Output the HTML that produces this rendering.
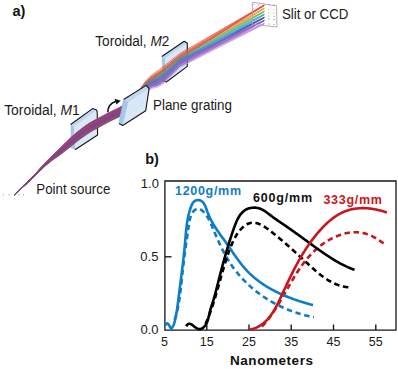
<!DOCTYPE html>
<html><head><meta charset="utf-8"><style>
html,body{margin:0;padding:0;background:#fff;}
svg{display:block;font-family:"Liberation Sans",sans-serif;}
</style></head><body>
<svg width="398" height="369" viewBox="0 0 398 369">
<rect width="398" height="369" fill="#fff"/>
<text x="12.4" y="15.6" font-size="14.5" font-weight="bold" fill="#111">a)</text>
<text x="95.3" y="45.9" font-size="14" fill="#1a1a1a" textLength="74" lengthAdjust="spacingAndGlyphs">Toroidal, <tspan font-style="italic">M</tspan>2</text>
<text x="4.2" y="115" font-size="14" fill="#1a1a1a" textLength="75.5" lengthAdjust="spacingAndGlyphs">Toroidal, <tspan font-style="italic">M</tspan>1</text>
<text x="153" y="109.5" font-size="14" fill="#1a1a1a" textLength="79" lengthAdjust="spacingAndGlyphs">Plane grating</text>
<text x="282" y="18.9" font-size="14" fill="#1a1a1a" textLength="66.3" lengthAdjust="spacingAndGlyphs">Slit or CCD</text>
<text x="36.3" y="194.3" font-size="14" fill="#1a1a1a" textLength="74" lengthAdjust="spacingAndGlyphs">Point source</text>
<circle cx="3.6" cy="194.8" r="0.55" fill="#777"/><circle cx="9.0" cy="194.8" r="0.55" fill="#777"/><circle cx="19.0" cy="194.8" r="0.55" fill="#777"/><circle cx="23.7" cy="194.8" r="0.55" fill="#777"/><path d="M14,195 L62,160 M14,195 L45,156" stroke="#ece4ea" stroke-width="0.5" fill="none"/><polygon points="162.2,56.3 164.8,58.0 166.3,82.0 162.9,80.7" fill="#a6c7ec" stroke="#94b6dc" stroke-width="0.5" stroke-linejoin="round"/><polygon points="162.2,56.3 184.2,41.3 187.3,43.2 187.3,66.4 166.3,82.0 164.8,58.0" fill="#dae7f7"/><polygon points="162.2,56.3 184.2,41.3 187.3,43.2 165.0,58.2" fill="#c0d7f1"/><polyline points="162.2,56.3 184.2,41.3 187.3,43.2 187.3,66.4 166.3,82.0 162.9,80.7" fill="none" stroke="#151515" stroke-width="1.1" stroke-linejoin="round" stroke-linecap="round"/><polygon points="71.0,124.3 73.8,126.2 75.4,149.5 71.0,147.7" fill="#a6c7ec" stroke="#94b6dc" stroke-width="0.5" stroke-linejoin="round"/><polygon points="71.0,124.3 92.6,108.6 96.6,110.0 97.6,135.0 75.4,149.5 74.0,126.3" fill="#dae7f7"/><polygon points="71.0,124.3 92.6,108.6 96.6,110.0 74.2,126.4" fill="#c0d7f1"/><polyline points="71.0,124.3 92.6,108.6 96.6,110.0 97.2,112.0 97.6,135.0 75.4,149.5" fill="none" stroke="#151515" stroke-width="1.1" stroke-linejoin="round" stroke-linecap="round"/><polygon points="14.0,194.9 15.4,193.6 16.8,192.3 18.2,191.0 19.7,189.6 21.1,188.3 22.5,186.9 23.9,185.5 25.3,184.2 26.7,182.8 28.2,181.4 29.6,180.0 31.0,178.5 32.4,177.1 33.8,175.6 35.2,174.1 36.7,172.6 38.1,171.0 39.5,169.5 40.9,167.9 42.3,166.4 43.7,164.9 45.1,163.4 46.6,161.9 48.0,160.4 49.4,159.0 50.8,157.6 52.2,156.2 53.6,154.9 55.1,153.5 56.5,152.2 57.9,150.8 59.3,149.5 60.7,148.1 62.1,146.7 63.6,145.3 65.0,143.9 66.4,142.5 67.8,141.2 69.2,139.8 70.6,138.5 72.0,137.2 73.5,135.9 74.9,134.7 76.3,133.4 77.7,132.2 79.1,131.1 80.5,130.0 82.0,128.9 83.4,127.8 84.8,126.8 86.2,125.8 87.6,124.8 89.0,123.9 90.4,123.0 91.9,122.2 93.3,121.4 94.7,120.7 96.1,119.9 97.5,119.2 98.9,118.5 100.4,117.7 101.8,117.0 103.2,116.2 104.6,115.5 106.0,114.8 107.4,114.0 108.9,113.3 110.3,112.6 111.7,111.9 113.1,111.2 114.5,110.5 115.9,109.9 117.3,109.2 118.8,108.5 120.2,107.7 121.6,106.8 123.0,105.8 124.4,104.7 125.8,103.5 127.3,102.2 128.7,100.9 130.1,99.5 131.5,98.1 132.9,96.8 134.3,95.4 135.8,94.1 137.2,92.8 138.6,91.5 140.0,90.1 140.0,97.5 138.6,98.9 137.2,100.2 135.8,101.5 134.3,102.8 132.9,104.2 131.5,105.7 130.1,107.2 128.7,108.6 127.3,110.1 125.8,111.5 124.4,112.8 123.0,113.9 121.6,115.0 120.2,115.9 118.8,116.7 117.3,117.4 115.9,118.1 114.5,118.7 113.1,119.4 111.7,120.1 110.3,120.8 108.9,121.5 107.4,122.2 106.0,123.0 104.6,123.8 103.2,124.5 101.8,125.3 100.4,126.1 98.9,126.9 97.5,127.6 96.1,128.4 94.7,129.2 93.3,130.0 91.9,130.8 90.4,131.6 89.0,132.5 87.6,133.4 86.2,134.4 84.8,135.3 83.4,136.3 82.0,137.4 80.5,138.4 79.1,139.5 77.7,140.5 76.3,141.6 74.9,142.7 73.5,143.8 72.0,144.9 70.6,146.0 69.2,147.1 67.8,148.3 66.4,149.4 65.0,150.6 63.6,151.8 62.1,152.9 60.7,154.0 59.3,155.1 57.9,156.1 56.5,157.1 55.1,158.0 53.6,158.9 52.2,159.9 50.8,161.0 49.4,162.1 48.0,163.3 46.6,164.5 45.1,165.8 43.7,167.1 42.3,168.5 40.9,169.9 39.5,171.2 38.1,172.6 36.7,174.0 35.2,175.4 33.8,176.8 32.4,178.2 31.0,179.5 29.6,180.9 28.2,182.2 26.7,183.5 25.3,184.8 23.9,186.1 22.5,187.4 21.1,188.7 19.7,190.0 18.2,191.3 16.8,192.5 15.4,193.8 14.0,195.1" fill="#6e3474" fill-opacity="0.55"/><path d="M14.0,195.0 L16.3,192.9 L18.6,190.7 L20.9,188.6 L23.2,186.4 L25.5,184.2 L27.7,181.9 L30.0,179.6 L32.3,177.3 L34.6,174.9 L36.9,172.5 L39.2,170.1 L41.5,167.6 L43.8,165.2 L46.1,162.9 L48.4,160.6 L50.7,158.4 L52.9,156.3 L55.2,154.2 L57.5,152.2 L59.8,150.2 L62.1,148.0 L64.4,145.8 L66.7,143.6 L69.0,141.4 L71.3,139.4 L73.6,137.4 L75.9,135.5 L78.1,133.6 L80.4,131.8 L82.7,130.1 L85.0,128.4 L87.3,126.8 L89.6,125.3 L91.9,124.0 L94.2,122.7 L96.5,121.5 L98.8,120.3 L101.1,119.1 L103.3,117.9 L105.6,116.7 L107.9,115.5 L110.2,114.3 L112.5,113.2 L114.8,112.1 L117.1,111.0 L119.4,109.8 L121.7,108.4 L124.0,106.8 L126.3,104.9 L128.5,102.8 L130.8,100.6 L133.1,98.4 L135.4,96.2 L137.7,93.8 L140.0,91.3" fill="none" stroke="#8a3a9c" stroke-width="0.75" stroke-opacity="0.9"/><path d="M14.0,195.0 L16.3,192.9 L18.6,190.8 L20.9,188.6 L23.2,186.5 L25.5,184.3 L27.7,182.1 L30.0,179.8 L32.3,177.5 L34.6,175.2 L36.9,172.8 L39.2,170.4 L41.5,168.0 L43.8,165.6 L46.1,163.3 L48.4,161.1 L50.7,158.9 L52.9,156.9 L55.2,155.0 L57.5,153.1 L59.8,151.1 L62.1,149.0 L64.4,146.9 L66.7,144.7 L69.0,142.7 L71.3,140.7 L73.6,138.7 L75.9,136.8 L78.1,134.9 L80.4,133.2 L82.7,131.4 L85.0,129.8 L87.3,128.2 L89.6,126.7 L91.9,125.3 L94.2,124.1 L96.5,122.8 L98.8,121.6 L101.1,120.4 L103.3,119.2 L105.6,118.0 L107.9,116.8 L110.2,115.6 L112.5,114.5 L114.8,113.4 L117.1,112.3 L119.4,111.1 L121.7,109.7 L124.0,108.0 L126.3,106.1 L128.5,103.9 L130.8,101.7 L133.1,99.4 L135.4,97.2 L137.7,95.0 L140.0,92.6" fill="none" stroke="#d04a3a" stroke-width="0.75" stroke-opacity="0.9"/><path d="M14.0,195.0 L16.3,192.9 L18.6,190.7 L20.9,188.5 L23.2,186.3 L25.5,184.1 L27.7,181.8 L30.0,179.6 L32.3,177.2 L34.6,174.8 L36.9,172.4 L39.2,169.9 L41.5,167.5 L43.8,165.0 L46.1,162.6 L48.4,160.3 L50.7,158.1 L52.9,155.9 L55.2,153.9 L57.5,151.8 L59.8,149.7 L62.1,147.5 L64.4,145.3 L66.7,143.0 L69.0,140.8 L71.3,138.8 L73.6,136.8 L75.9,134.8 L78.1,132.9 L80.4,131.2 L82.7,129.4 L85.0,127.7 L87.3,126.2 L89.6,124.7 L91.9,123.3 L94.2,122.0 L96.5,120.8 L98.8,119.6 L101.1,118.4 L103.3,117.2 L105.6,116.0 L107.9,114.8 L110.2,113.6 L112.5,112.5 L114.8,111.5 L117.1,110.4 L119.4,109.2 L121.7,107.8 L124.0,106.1 L126.3,104.3 L128.5,102.3 L130.8,100.1 L133.1,97.9 L135.4,95.7 L137.7,93.2 L140.0,90.6" fill="none" stroke="#b03a70" stroke-width="0.75" stroke-opacity="0.9"/><path d="M14.0,195.0 L16.3,192.9 L18.6,190.9 L20.9,188.8 L23.2,186.7 L25.5,184.6 L27.7,182.4 L30.0,180.3 L32.3,178.1 L34.6,175.8 L36.9,173.5 L39.2,171.2 L41.5,168.9 L43.8,166.6 L46.1,164.4 L48.4,162.4 L50.7,160.4 L52.9,158.6 L55.2,156.9 L57.5,155.2 L59.8,153.4 L62.1,151.6 L64.4,149.6 L66.7,147.7 L69.0,145.8 L71.3,143.9 L73.6,142.0 L75.9,140.1 L78.1,138.3 L80.4,136.5 L82.7,134.9 L85.0,133.2 L87.3,131.7 L89.6,130.2 L91.9,128.8 L94.2,127.5 L96.5,126.3 L98.8,125.0 L101.1,123.8 L103.3,122.6 L105.6,121.3 L107.9,120.1 L110.2,118.9 L112.5,117.8 L114.8,116.7 L117.1,115.6 L119.4,114.4 L121.7,113.0 L124.0,111.3 L126.3,109.3 L128.5,107.0 L130.8,104.7 L133.1,102.2 L135.4,99.8 L137.7,97.2 L140.0,94.4" fill="none" stroke="#7a3a8a" stroke-width="0.75" stroke-opacity="0.9"/><path d="M14.0,195.0 L16.3,192.9 L18.6,190.8 L20.9,188.7 L23.2,186.6 L25.5,184.4 L27.7,182.2 L30.0,180.1 L32.3,177.8 L34.6,175.5 L36.9,173.1 L39.2,170.8 L41.5,168.4 L43.8,166.1 L46.1,163.9 L48.4,161.7 L50.7,159.7 L52.9,157.7 L55.2,155.9 L57.5,154.1 L59.8,152.2 L62.1,150.3 L64.4,148.2 L66.7,146.2 L69.0,144.2 L71.3,142.2 L73.6,140.3 L75.9,138.4 L78.1,136.6 L80.4,134.8 L82.7,133.1 L85.0,131.5 L87.3,129.9 L89.6,128.4 L91.9,127.0 L94.2,125.7 L96.5,124.5 L98.8,123.3 L101.1,122.1 L103.3,120.8 L105.6,119.6 L107.9,118.4 L110.2,117.2 L112.5,116.1 L114.8,115.0 L117.1,114.0 L119.4,112.8 L121.7,111.4 L124.0,109.7 L126.3,107.7 L128.5,105.6 L130.8,103.3 L133.1,100.9 L135.4,98.5 L137.7,95.8 L140.0,92.9" fill="none" stroke="#6a7a4a" stroke-width="0.75" stroke-opacity="0.9"/><path d="M14.0,195.0 L16.3,192.9 L18.6,190.8 L20.9,188.7 L23.2,186.5 L25.5,184.4 L27.7,182.2 L30.0,180.0 L32.3,177.7 L34.6,175.4 L36.9,173.1 L39.2,170.7 L41.5,168.3 L43.8,166.0 L46.1,163.7 L48.4,161.6 L50.7,159.5 L52.9,157.5 L55.2,155.7 L57.5,153.9 L59.8,152.0 L62.1,150.0 L64.4,147.9 L66.7,145.8 L69.0,143.8 L71.3,141.9 L73.6,139.9 L75.9,138.0 L78.1,136.2 L80.4,134.4 L82.7,132.7 L85.0,131.1 L87.3,129.5 L89.6,128.0 L91.9,126.6 L94.2,125.3 L96.5,124.1 L98.8,122.9 L101.1,121.7 L103.3,120.4 L105.6,119.2 L107.9,118.0 L110.2,116.8 L112.5,115.7 L114.8,114.6 L117.1,113.6 L119.4,112.4 L121.7,111.0 L124.0,109.2 L126.3,107.2 L128.5,105.0 L130.8,102.6 L133.1,100.4 L135.4,98.2 L137.7,96.1 L140.0,93.8" fill="none" stroke="#d04a3a" stroke-width="0.75" stroke-opacity="0.9"/><path d="M14.0,195.0 L16.3,193.0 L18.6,190.9 L20.9,188.8 L23.2,186.8 L25.5,184.7 L27.7,182.6 L30.0,180.4 L32.3,178.3 L34.6,176.0 L36.9,173.7 L39.2,171.4 L41.5,169.2 L43.8,166.9 L46.1,164.8 L48.4,162.8 L50.7,160.9 L52.9,159.1 L55.2,157.5 L57.5,155.9 L59.8,154.2 L62.1,152.4 L64.4,150.5 L66.7,148.7 L69.0,146.8 L71.3,144.9 L73.6,143.1 L75.9,141.2 L78.1,139.4 L80.4,137.7 L82.7,136.0 L85.0,134.3 L87.3,132.8 L89.6,131.3 L91.9,129.9 L94.2,128.6 L96.5,127.4 L98.8,126.1 L101.1,124.9 L103.3,123.7 L105.6,122.4 L107.9,121.2 L110.2,120.0 L112.5,118.9 L114.8,117.8 L117.1,116.7 L119.4,115.5 L121.7,114.1 L124.0,112.3 L126.3,110.1 L128.5,107.7 L130.8,105.3 L133.1,102.9 L135.4,100.8 L137.7,98.6 L140.0,96.5" fill="none" stroke="#d04a3a" stroke-width="0.75" stroke-opacity="0.9"/><path d="M14.0,195.0 L16.3,193.0 L18.6,190.9 L20.9,188.9 L23.2,186.8 L25.5,184.7 L27.7,182.6 L30.0,180.5 L32.3,178.4 L34.6,176.1 L36.9,173.9 L39.2,171.6 L41.5,169.3 L43.8,167.2 L46.1,165.0 L48.4,163.0 L50.7,161.2 L52.9,159.5 L55.2,157.9 L57.5,156.3 L59.8,154.7 L62.1,152.9 L64.4,151.1 L66.7,149.3 L69.0,147.4 L71.3,145.6 L73.6,143.7 L75.9,141.9 L78.1,140.1 L80.4,138.4 L82.7,136.7 L85.0,135.1 L87.3,133.5 L89.6,132.0 L91.9,130.6 L94.2,129.3 L96.5,128.1 L98.8,126.9 L101.1,125.6 L103.3,124.3 L105.6,123.1 L107.9,121.9 L110.2,120.7 L112.5,119.6 L114.8,118.5 L117.1,117.4 L119.4,116.2 L121.7,114.8 L124.0,113.0 L126.3,110.8 L128.5,108.4 L130.8,106.0 L133.1,103.5 L135.4,101.3 L137.7,99.0 L140.0,96.6" fill="none" stroke="#6a48a8" stroke-width="0.75" stroke-opacity="0.9"/><path d="M14.0,195.0 L16.3,193.0 L18.6,190.9 L20.9,188.9 L23.2,186.8 L25.5,184.7 L27.7,182.6 L30.0,180.5 L32.3,178.4 L34.6,176.1 L36.9,173.9 L39.2,171.6 L41.5,169.3 L43.8,167.2 L46.1,165.0 L48.4,163.0 L50.7,161.2 L52.9,159.5 L55.2,157.9 L57.5,156.3 L59.8,154.7 L62.1,152.9 L64.4,151.1 L66.7,149.3 L69.0,147.4 L71.3,145.6 L73.6,143.7 L75.9,141.9 L78.1,140.1 L80.4,138.4 L82.7,136.7 L85.0,135.1 L87.3,133.5 L89.6,132.0 L91.9,130.6 L94.2,129.3 L96.5,128.1 L98.8,126.9 L101.1,125.6 L103.3,124.4 L105.6,123.1 L107.9,121.9 L110.2,120.7 L112.5,119.6 L114.8,118.5 L117.1,117.4 L119.4,116.2 L121.7,114.8 L124.0,113.0 L126.3,110.9 L128.5,108.6 L130.8,106.1 L133.1,103.7 L135.4,101.3 L137.7,98.7 L140.0,96.0" fill="none" stroke="#4a58b0" stroke-width="0.75" stroke-opacity="0.9"/><path d="M14.0,195.0 L16.3,192.9 L18.6,190.9 L20.9,188.8 L23.2,186.7 L25.5,184.6 L27.7,182.5 L30.0,180.3 L32.3,178.1 L34.6,175.8 L36.9,173.5 L39.2,171.2 L41.5,168.9 L43.8,166.7 L46.1,164.5 L48.4,162.4 L50.7,160.4 L52.9,158.6 L55.2,156.9 L57.5,155.3 L59.8,153.5 L62.1,151.7 L64.4,149.7 L66.7,147.8 L69.0,145.9 L71.3,144.0 L73.6,142.1 L75.9,140.2 L78.1,138.4 L80.4,136.7 L82.7,135.0 L85.0,133.3 L87.3,131.8 L89.6,130.3 L91.9,128.9 L94.2,127.6 L96.5,126.4 L98.8,125.2 L101.1,123.9 L103.3,122.7 L105.6,121.4 L107.9,120.2 L110.2,119.0 L112.5,117.9 L114.8,116.9 L117.1,115.8 L119.4,114.6 L121.7,113.2 L124.0,111.4 L126.3,109.4 L128.5,107.1 L130.8,104.7 L133.1,102.3 L135.4,99.9 L137.7,97.5 L140.0,94.8" fill="none" stroke="#6a48a8" stroke-width="0.75" stroke-opacity="0.9"/><path d="M14.0,195.0 L16.3,192.9 L18.6,190.8 L20.9,188.6 L23.2,186.5 L25.5,184.3 L27.7,182.1 L30.0,179.8 L32.3,177.6 L34.6,175.2 L36.9,172.8 L39.2,170.4 L41.5,168.0 L43.8,165.7 L46.1,163.4 L48.4,161.1 L50.7,159.0 L52.9,157.0 L55.2,155.1 L57.5,153.2 L59.8,151.2 L62.1,149.1 L64.4,147.0 L66.7,144.9 L69.0,142.8 L71.3,140.8 L73.6,138.8 L75.9,136.9 L78.1,135.1 L80.4,133.3 L82.7,131.6 L85.0,129.9 L87.3,128.3 L89.6,126.9 L91.9,125.5 L94.2,124.2 L96.5,123.0 L98.8,121.8 L101.1,120.6 L103.3,119.3 L105.6,118.1 L107.9,116.9 L110.2,115.7 L112.5,114.6 L114.8,113.6 L117.1,112.5 L119.4,111.3 L121.7,109.9 L124.0,108.2 L126.3,106.3 L128.5,104.3 L130.8,102.0 L133.1,99.7 L135.4,97.3 L137.7,94.6 L140.0,91.5" fill="none" stroke="#7a3a8a" stroke-width="0.75" stroke-opacity="0.9"/><path d="M14.0,195.0 L16.3,193.0 L18.6,190.9 L20.9,188.9 L23.2,186.8 L25.5,184.7 L27.7,182.6 L30.0,180.5 L32.3,178.4 L34.6,176.1 L36.9,173.8 L39.2,171.6 L41.5,169.3 L43.8,167.1 L46.1,165.0 L48.4,163.0 L50.7,161.1 L52.9,159.4 L55.2,157.9 L57.5,156.3 L59.8,154.6 L62.1,152.9 L64.4,151.1 L66.7,149.2 L69.0,147.4 L71.3,145.5 L73.6,143.7 L75.9,141.8 L78.1,140.0 L80.4,138.3 L82.7,136.6 L85.0,135.0 L87.3,133.4 L89.6,131.9 L91.9,130.6 L94.2,129.3 L96.5,128.0 L98.8,126.8 L101.1,125.5 L103.3,124.3 L105.6,123.0 L107.9,121.8 L110.2,120.6 L112.5,119.5 L114.8,118.4 L117.1,117.4 L119.4,116.2 L121.7,114.7 L124.0,113.0 L126.3,110.9 L128.5,108.6 L130.8,106.1 L133.1,103.6 L135.4,101.2 L137.7,98.5 L140.0,95.6" fill="none" stroke="#7a3a8a" stroke-width="0.75" stroke-opacity="0.9"/><path d="M14.0,195.0 L16.3,193.0 L18.6,190.9 L20.9,188.9 L23.2,186.8 L25.5,184.8 L27.7,182.7 L30.0,180.6 L32.3,178.4 L34.6,176.2 L36.9,174.0 L39.2,171.7 L41.5,169.5 L43.8,167.3 L46.1,165.2 L48.4,163.2 L50.7,161.4 L52.9,159.7 L55.2,158.2 L57.5,156.6 L59.8,155.0 L62.1,153.3 L64.4,151.5 L66.7,149.7 L69.0,147.9 L71.3,146.1 L73.6,144.2 L75.9,142.4 L78.1,140.6 L80.4,138.9 L82.7,137.2 L85.0,135.6 L87.3,134.0 L89.6,132.5 L91.9,131.1 L94.2,129.8 L96.5,128.6 L98.8,127.4 L101.1,126.1 L103.3,124.8 L105.6,123.6 L107.9,122.4 L110.2,121.2 L112.5,120.0 L114.8,119.0 L117.1,117.9 L119.4,116.7 L121.7,115.3 L124.0,113.5 L126.3,111.3 L128.5,108.8 L130.8,106.3 L133.1,103.9 L135.4,101.7 L137.7,99.5 L140.0,97.3" fill="none" stroke="#c8304a" stroke-width="0.75" stroke-opacity="0.9"/><path d="M14.0,195.0 L16.3,192.9 L18.6,190.8 L20.9,188.7 L23.2,186.6 L25.5,184.5 L27.7,182.3 L30.0,180.1 L32.3,177.9 L34.6,175.6 L36.9,173.2 L39.2,170.9 L41.5,168.6 L43.8,166.3 L46.1,164.0 L48.4,161.9 L50.7,159.9 L52.9,158.0 L55.2,156.2 L57.5,154.4 L59.8,152.6 L62.1,150.7 L64.4,148.7 L66.7,146.7 L69.0,144.7 L71.3,142.8 L73.6,140.8 L75.9,138.9 L78.1,137.1 L80.4,135.4 L82.7,133.7 L85.0,132.0 L87.3,130.4 L89.6,129.0 L91.9,127.6 L94.2,126.3 L96.5,125.1 L98.8,123.9 L101.1,122.6 L103.3,121.4 L105.6,120.2 L107.9,119.0 L110.2,117.8 L112.5,116.6 L114.8,115.6 L117.1,114.5 L119.4,113.3 L121.7,111.9 L124.0,110.2 L126.3,108.2 L128.5,106.0 L130.8,103.7 L133.1,101.3 L135.4,98.9 L137.7,96.4 L140.0,93.6" fill="none" stroke="#4a58b0" stroke-width="0.75" stroke-opacity="0.9"/><path d="M14.0,195.0 L16.3,192.9 L18.6,190.8 L20.9,188.7 L23.2,186.6 L25.5,184.4 L27.7,182.2 L30.0,180.1 L32.3,177.8 L34.6,175.5 L36.9,173.1 L39.2,170.8 L41.5,168.4 L43.8,166.1 L46.1,163.9 L48.4,161.7 L50.7,159.6 L52.9,157.7 L55.2,155.9 L57.5,154.1 L59.8,152.2 L62.1,150.2 L64.4,148.2 L66.7,146.2 L69.0,144.2 L71.3,142.2 L73.6,140.3 L75.9,138.4 L78.1,136.6 L80.4,134.8 L82.7,133.1 L85.0,131.4 L87.3,129.9 L89.6,128.4 L91.9,127.0 L94.2,125.7 L96.5,124.5 L98.8,123.3 L101.1,122.1 L103.3,120.8 L105.6,119.6 L107.9,118.4 L110.2,117.2 L112.5,116.1 L114.8,115.0 L117.1,113.9 L119.4,112.7 L121.7,111.3 L124.0,109.6 L126.3,107.5 L128.5,105.2 L130.8,102.9 L133.1,100.6 L135.4,98.5 L137.7,96.5 L140.0,94.4" fill="none" stroke="#8a3a9c" stroke-width="0.75" stroke-opacity="0.9"/><path d="M14.0,195.0 L16.3,192.9 L18.6,190.9 L20.9,188.8 L23.2,186.7 L25.5,184.5 L27.7,182.4 L30.0,180.2 L32.3,178.0 L34.6,175.7 L36.9,173.4 L39.2,171.1 L41.5,168.8 L43.8,166.5 L46.1,164.3 L48.4,162.2 L50.7,160.2 L52.9,158.4 L55.2,156.7 L57.5,154.9 L59.8,153.1 L62.1,151.3 L64.4,149.3 L66.7,147.3 L69.0,145.4 L71.3,143.5 L73.6,141.6 L75.9,139.7 L78.1,137.9 L80.4,136.1 L82.7,134.5 L85.0,132.8 L87.3,131.2 L89.6,129.8 L91.9,128.4 L94.2,127.1 L96.5,125.9 L98.8,124.6 L101.1,123.4 L103.3,122.2 L105.6,120.9 L107.9,119.7 L110.2,118.5 L112.5,117.4 L114.8,116.3 L117.1,115.3 L119.4,114.1 L121.7,112.7 L124.0,111.0 L126.3,109.0 L128.5,106.8 L130.8,104.4 L133.1,102.0 L135.4,99.5 L137.7,96.7 L140.0,93.5" fill="none" stroke="#8a3a9c" stroke-width="0.75" stroke-opacity="0.9"/><path d="M14.0,195.0 L16.3,192.9 L18.6,190.8 L20.9,188.6 L23.2,186.4 L25.5,184.2 L27.7,182.0 L30.0,179.8 L32.3,177.5 L34.6,175.1 L36.9,172.7 L39.2,170.3 L41.5,167.9 L43.8,165.5 L46.1,163.2 L48.4,160.9 L50.7,158.8 L52.9,156.7 L55.2,154.8 L57.5,152.8 L59.8,150.8 L62.1,148.7 L64.4,146.6 L66.7,144.4 L69.0,142.3 L71.3,140.3 L73.6,138.3 L75.9,136.4 L78.1,134.5 L80.4,132.8 L82.7,131.0 L85.0,129.4 L87.3,127.8 L89.6,126.3 L91.9,124.9 L94.2,123.7 L96.5,122.5 L98.8,121.3 L101.1,120.0 L103.3,118.8 L105.6,117.6 L107.9,116.4 L110.2,115.2 L112.5,114.1 L114.8,113.0 L117.1,111.9 L119.4,110.7 L121.7,109.4 L124.0,107.7 L126.3,105.8 L128.5,103.7 L130.8,101.5 L133.1,99.2 L135.4,96.9 L137.7,94.4 L140.0,91.7" fill="none" stroke="#b03a70" stroke-width="0.75" stroke-opacity="0.9"/><path d="M14.0,195.0 L16.3,192.9 L18.6,190.8 L20.9,188.6 L23.2,186.5 L25.5,184.3 L27.7,182.1 L30.0,179.8 L32.3,177.5 L34.6,175.2 L36.9,172.8 L39.2,170.4 L41.5,168.0 L43.8,165.7 L46.1,163.3 L48.4,161.1 L50.7,159.0 L52.9,157.0 L55.2,155.0 L57.5,153.1 L59.8,151.1 L62.1,149.1 L64.4,146.9 L66.7,144.8 L69.0,142.7 L71.3,140.7 L73.6,138.8 L75.9,136.9 L78.1,135.0 L80.4,133.2 L82.7,131.5 L85.0,129.9 L87.3,128.3 L89.6,126.8 L91.9,125.4 L94.2,124.1 L96.5,122.9 L98.8,121.7 L101.1,120.5 L103.3,119.3 L105.6,118.1 L107.9,116.9 L110.2,115.7 L112.5,114.6 L114.8,113.5 L117.1,112.4 L119.4,111.2 L121.7,109.8 L124.0,108.1 L126.3,106.1 L128.5,103.8 L130.8,101.6 L133.1,99.4 L135.4,97.3 L137.7,95.3 L140.0,93.3" fill="none" stroke="#6a7a4a" stroke-width="0.75" stroke-opacity="0.9"/><path d="M14.0,195.0 L16.3,192.9 L18.6,190.7 L20.9,188.6 L23.2,186.4 L25.5,184.2 L27.7,182.0 L30.0,179.7 L32.3,177.4 L34.6,175.0 L36.9,172.6 L39.2,170.2 L41.5,167.8 L43.8,165.4 L46.1,163.1 L48.4,160.8 L50.7,158.6 L52.9,156.6 L55.2,154.6 L57.5,152.6 L59.8,150.6 L62.1,148.5 L64.4,146.3 L66.7,144.1 L69.0,142.0 L71.3,139.9 L73.6,138.0 L75.9,136.0 L78.1,134.2 L80.4,132.4 L82.7,130.7 L85.0,129.0 L87.3,127.4 L89.6,125.9 L91.9,124.6 L94.2,123.3 L96.5,122.1 L98.8,120.9 L101.1,119.7 L103.3,118.5 L105.6,117.3 L107.9,116.1 L110.2,114.9 L112.5,113.7 L114.8,112.7 L117.1,111.6 L119.4,110.4 L121.7,109.0 L124.0,107.4 L126.3,105.5 L128.5,103.5 L130.8,101.3 L133.1,99.0 L135.4,96.6 L137.7,93.9 L140.0,90.9" fill="none" stroke="#6a48a8" stroke-width="0.75" stroke-opacity="0.9"/><path d="M14.0,195.0 L16.3,192.9 L18.6,190.8 L20.9,188.6 L23.2,186.5 L25.5,184.3 L27.7,182.1 L30.0,179.8 L32.3,177.5 L34.6,175.2 L36.9,172.8 L39.2,170.4 L41.5,168.0 L43.8,165.6 L46.1,163.3 L48.4,161.1 L50.7,159.0 L52.9,156.9 L55.2,155.0 L57.5,153.1 L59.8,151.1 L62.1,149.0 L64.4,146.9 L66.7,144.8 L69.0,142.7 L71.3,140.7 L73.6,138.7 L75.9,136.8 L78.1,135.0 L80.4,133.2 L82.7,131.5 L85.0,129.8 L87.3,128.2 L89.6,126.7 L91.9,125.4 L94.2,124.1 L96.5,122.9 L98.8,121.7 L101.1,120.4 L103.3,119.2 L105.6,118.0 L107.9,116.8 L110.2,115.6 L112.5,114.5 L114.8,113.4 L117.1,112.3 L119.4,111.1 L121.7,109.8 L124.0,108.0 L126.3,106.0 L128.5,103.9 L130.8,101.6 L133.1,99.4 L135.4,97.3 L137.7,95.1 L140.0,92.9" fill="none" stroke="#8a3a9c" stroke-width="0.75" stroke-opacity="0.9"/><path d="M14.0,195.0 L16.3,192.9 L18.6,190.7 L20.9,188.5 L23.2,186.3 L25.5,184.0 L27.7,181.7 L30.0,179.4 L32.3,177.1 L34.6,174.6 L36.9,172.2 L39.2,169.7 L41.5,167.2 L43.8,164.7 L46.1,162.3 L48.4,160.0 L50.7,157.7 L52.9,155.5 L55.2,153.3 L57.5,151.2 L59.8,149.0 L62.1,146.8 L64.4,144.5 L66.7,142.2 L69.0,139.9 L71.3,137.8 L73.6,135.8 L75.9,133.9 L78.1,132.0 L80.4,130.2 L82.7,128.4 L85.0,126.8 L87.3,125.2 L89.6,123.7 L91.9,122.3 L94.2,121.1 L96.5,119.9 L98.8,118.7 L101.1,117.5 L103.3,116.3 L105.6,115.1 L107.9,113.9 L110.2,112.7 L112.5,111.6 L114.8,110.5 L117.1,109.4 L119.4,108.2 L121.7,106.8 L124.0,105.2 L126.3,103.3 L128.5,101.3 L130.8,99.1 L133.1,97.0 L135.4,94.9 L137.7,92.8 L140.0,90.5" fill="none" stroke="#6a7a4a" stroke-width="0.75" stroke-opacity="0.9"/><path d="M14.0,195.0 L16.3,192.8 L18.6,190.7 L20.9,188.5 L23.2,186.2 L25.5,184.0 L27.7,181.7 L30.0,179.4 L32.3,177.0 L34.6,174.6 L36.9,172.1 L39.2,169.6 L41.5,167.1 L43.8,164.7 L46.1,162.2 L48.4,159.8 L50.7,157.5 L52.9,155.3 L55.2,153.2 L57.5,151.0 L59.8,148.8 L62.1,146.5 L64.4,144.2 L66.7,141.9 L69.0,139.6 L71.3,137.5 L73.6,135.5 L75.9,133.5 L78.1,131.7 L80.4,129.9 L82.7,128.1 L85.0,126.4 L87.3,124.8 L89.6,123.3 L91.9,122.0 L94.2,120.7 L96.5,119.5 L98.8,118.3 L101.1,117.1 L103.3,115.9 L105.6,114.7 L107.9,113.6 L110.2,112.4 L112.5,111.3 L114.8,110.2 L117.1,109.1 L119.4,107.9 L121.7,106.5 L124.0,104.9 L126.3,103.1 L128.5,101.2 L130.8,99.1 L133.1,96.9 L135.4,94.6 L137.7,92.1 L140.0,89.3" fill="none" stroke="#d04a3a" stroke-width="0.75" stroke-opacity="0.9"/><path d="M14.0,195.0 L16.3,192.9 L18.6,190.8 L20.9,188.7 L23.2,186.5 L25.5,184.4 L27.7,182.2 L30.0,180.0 L32.3,177.7 L34.6,175.4 L36.9,173.0 L39.2,170.7 L41.5,168.3 L43.8,166.0 L46.1,163.7 L48.4,161.5 L50.7,159.4 L52.9,157.5 L55.2,155.6 L57.5,153.8 L59.8,151.9 L62.1,149.9 L64.4,147.8 L66.7,145.8 L69.0,143.7 L71.3,141.8 L73.6,139.8 L75.9,137.9 L78.1,136.1 L80.4,134.3 L82.7,132.6 L85.0,131.0 L87.3,129.4 L89.6,127.9 L91.9,126.5 L94.2,125.2 L96.5,124.0 L98.8,122.8 L101.1,121.6 L103.3,120.4 L105.6,119.1 L107.9,117.9 L110.2,116.7 L112.5,115.6 L114.8,114.6 L117.1,113.5 L119.4,112.3 L121.7,110.9 L124.0,109.2 L126.3,107.2 L128.5,105.1 L130.8,102.8 L133.1,100.4 L135.4,98.1 L137.7,95.6 L140.0,92.8" fill="none" stroke="#b03a70" stroke-width="0.75" stroke-opacity="0.9"/><path d="M14.0,195.0 L16.3,192.9 L18.6,190.7 L20.9,188.6 L23.2,186.4 L25.5,184.2 L27.7,181.9 L30.0,179.7 L32.3,177.4 L34.6,175.0 L36.9,172.6 L39.2,170.1 L41.5,167.7 L43.8,165.3 L46.1,162.9 L48.4,160.7 L50.7,158.5 L52.9,156.4 L55.2,154.4 L57.5,152.4 L59.8,150.3 L62.1,148.2 L64.4,146.0 L66.7,143.8 L69.0,141.6 L71.3,139.6 L73.6,137.6 L75.9,135.7 L78.1,133.8 L80.4,132.1 L82.7,130.3 L85.0,128.7 L87.3,127.1 L89.6,125.6 L91.9,124.2 L94.2,122.9 L96.5,121.7 L98.8,120.5 L101.1,119.3 L103.3,118.1 L105.6,116.9 L107.9,115.7 L110.2,114.5 L112.5,113.4 L114.8,112.3 L117.1,111.2 L119.4,110.0 L121.7,108.7 L124.0,107.0 L126.3,105.0 L128.5,102.9 L130.8,100.6 L133.1,98.5 L135.4,96.4 L137.7,94.3 L140.0,92.1" fill="none" stroke="#6a7a4a" stroke-width="0.75" stroke-opacity="0.9"/><path d="M14.0,195.0 L16.3,193.0 L18.6,190.9 L20.9,188.9 L23.2,186.8 L25.5,184.7 L27.7,182.6 L30.0,180.5 L32.3,178.3 L34.6,176.1 L36.9,173.8 L39.2,171.5 L41.5,169.3 L43.8,167.0 L46.1,164.9 L48.4,162.9 L50.7,161.0 L52.9,159.3 L55.2,157.7 L57.5,156.1 L59.8,154.4 L62.1,152.6 L64.4,150.8 L66.7,148.9 L69.0,147.1 L71.3,145.2 L73.6,143.4 L75.9,141.5 L78.1,139.7 L80.4,138.0 L82.7,136.3 L85.0,134.7 L87.3,133.1 L89.6,131.6 L91.9,130.3 L94.2,129.0 L96.5,127.7 L98.8,126.5 L101.1,125.2 L103.3,124.0 L105.6,122.7 L107.9,121.5 L110.2,120.3 L112.5,119.2 L114.8,118.1 L117.1,117.1 L119.4,115.9 L121.7,114.4 L124.0,112.7 L126.3,110.5 L128.5,108.2 L130.8,105.7 L133.1,103.3 L135.4,101.0 L137.7,98.6 L140.0,96.0" fill="none" stroke="#8a3a9c" stroke-width="0.75" stroke-opacity="0.9"/><path d="M14.0,195.0 L16.3,192.9 L18.6,190.7 L20.9,188.5 L23.2,186.3 L25.5,184.0 L27.7,181.8 L30.0,179.5 L32.3,177.1 L34.6,174.7 L36.9,172.2 L39.2,169.7 L41.5,167.3 L43.8,164.8 L46.1,162.4 L48.4,160.0 L50.7,157.8 L52.9,155.6 L55.2,153.4 L57.5,151.3 L59.8,149.2 L62.1,146.9 L64.4,144.6 L66.7,142.3 L69.0,140.1 L71.3,138.0 L73.6,136.0 L75.9,134.1 L78.1,132.2 L80.4,130.4 L82.7,128.6 L85.0,127.0 L87.3,125.4 L89.6,123.9 L91.9,122.5 L94.2,121.3 L96.5,120.1 L98.8,118.9 L101.1,117.7 L103.3,116.5 L105.6,115.3 L107.9,114.1 L110.2,112.9 L112.5,111.8 L114.8,110.7 L117.1,109.6 L119.4,108.4 L121.7,107.0 L124.0,105.4 L126.3,103.5 L128.5,101.4 L130.8,99.2 L133.1,97.1 L135.4,95.1 L137.7,93.1 L140.0,90.9" fill="none" stroke="#7a3a8a" stroke-width="0.75" stroke-opacity="0.9"/><path d="M14.0,195.0 L16.3,192.9 L18.6,190.7 L20.9,188.5 L23.2,186.3 L25.5,184.1 L27.7,181.8 L30.0,179.5 L32.3,177.2 L34.6,174.8 L36.9,172.3 L39.2,169.9 L41.5,167.4 L43.8,165.0 L46.1,162.6 L48.4,160.3 L50.7,158.0 L52.9,155.9 L55.2,153.8 L57.5,151.7 L59.8,149.6 L62.1,147.4 L64.4,145.1 L66.7,142.9 L69.0,140.7 L71.3,138.6 L73.6,136.6 L75.9,134.7 L78.1,132.8 L80.4,131.0 L82.7,129.3 L85.0,127.6 L87.3,126.0 L89.6,124.5 L91.9,123.2 L94.2,121.9 L96.5,120.7 L98.8,119.5 L101.1,118.3 L103.3,117.1 L105.6,115.9 L107.9,114.7 L110.2,113.5 L112.5,112.4 L114.8,111.3 L117.1,110.2 L119.4,109.0 L121.7,107.6 L124.0,106.0 L126.3,104.0 L128.5,101.9 L130.8,99.7 L133.1,97.6 L135.4,95.6 L137.7,93.7 L140.0,91.7" fill="none" stroke="#c8304a" stroke-width="0.75" stroke-opacity="0.9"/><path d="M14.0,195.0 L16.3,192.9 L18.6,190.7 L20.9,188.6 L23.2,186.4 L25.5,184.2 L27.7,182.0 L30.0,179.7 L32.3,177.4 L34.6,175.0 L36.9,172.6 L39.2,170.2 L41.5,167.8 L43.8,165.4 L46.1,163.0 L48.4,160.7 L50.7,158.6 L52.9,156.5 L55.2,154.5 L57.5,152.5 L59.8,150.5 L62.1,148.3 L64.4,146.1 L66.7,144.0 L69.0,141.8 L71.3,139.8 L73.6,137.8 L75.9,135.9 L78.1,134.0 L80.4,132.3 L82.7,130.5 L85.0,128.9 L87.3,127.3 L89.6,125.8 L91.9,124.4 L94.2,123.2 L96.5,121.9 L98.8,120.7 L101.1,119.5 L103.3,118.3 L105.6,117.1 L107.9,115.9 L110.2,114.7 L112.5,113.6 L114.8,112.5 L117.1,111.4 L119.4,110.2 L121.7,108.9 L124.0,107.1 L126.3,105.1 L128.5,103.0 L130.8,100.7 L133.1,98.6 L135.4,96.6 L137.7,94.6 L140.0,92.6" fill="none" stroke="#7a3a8a" stroke-width="0.75" stroke-opacity="0.9"/><path d="M14.0,195.0 L16.3,192.9 L18.6,190.9 L20.9,188.8 L23.2,186.6 L25.5,184.5 L27.7,182.3 L30.0,180.2 L32.3,177.9 L34.6,175.6 L36.9,173.3 L39.2,171.0 L41.5,168.7 L43.8,166.4 L46.1,164.2 L48.4,162.0 L50.7,160.0 L52.9,158.2 L55.2,156.4 L57.5,154.7 L59.8,152.9 L62.1,150.9 L64.4,149.0 L66.7,147.0 L69.0,145.0 L71.3,143.1 L73.6,141.2 L75.9,139.3 L78.1,137.5 L80.4,135.7 L82.7,134.0 L85.0,132.4 L87.3,130.8 L89.6,129.3 L91.9,127.9 L94.2,126.7 L96.5,125.4 L98.8,124.2 L101.1,123.0 L103.3,121.7 L105.6,120.5 L107.9,119.3 L110.2,118.1 L112.5,117.0 L114.8,115.9 L117.1,114.8 L119.4,113.6 L121.7,112.2 L124.0,110.5 L126.3,108.4 L128.5,106.2 L130.8,103.8 L133.1,101.5 L135.4,99.2 L137.7,96.9 L140.0,94.4" fill="none" stroke="#c8304a" stroke-width="0.75" stroke-opacity="0.9"/><path d="M14.0,195.0 L16.3,192.9 L18.6,190.9 L20.9,188.8 L23.2,186.7 L25.5,184.6 L27.7,182.4 L30.0,180.3 L32.3,178.0 L34.6,175.8 L36.9,173.5 L39.2,171.1 L41.5,168.8 L43.8,166.6 L46.1,164.4 L48.4,162.3 L50.7,160.3 L52.9,158.5 L55.2,156.8 L57.5,155.1 L59.8,153.3 L62.1,151.4 L64.4,149.5 L66.7,147.5 L69.0,145.6 L71.3,143.7 L73.6,141.8 L75.9,139.9 L78.1,138.1 L80.4,136.4 L82.7,134.7 L85.0,133.1 L87.3,131.5 L89.6,130.0 L91.9,128.6 L94.2,127.3 L96.5,126.1 L98.8,124.9 L101.1,123.6 L103.3,122.4 L105.6,121.2 L107.9,119.9 L110.2,118.7 L112.5,117.6 L114.8,116.6 L117.1,115.5 L119.4,114.3 L121.7,112.9 L124.0,111.2 L126.3,109.2 L128.5,106.9 L130.8,104.6 L133.1,102.1 L135.4,99.7 L137.7,97.0 L140.0,94.0" fill="none" stroke="#6a7a4a" stroke-width="0.75" stroke-opacity="0.9"/><path d="M14.0,195.0 L16.3,192.8 L18.6,190.7 L20.9,188.5 L23.2,186.2 L25.5,184.0 L27.7,181.7 L30.0,179.4 L32.3,177.0 L34.6,174.5 L36.9,172.1 L39.2,169.6 L41.5,167.1 L43.8,164.6 L46.1,162.2 L48.4,159.8 L50.7,157.4 L52.9,155.2 L55.2,153.0 L57.5,150.9 L59.8,148.7 L62.1,146.4 L64.4,144.0 L66.7,141.7 L69.0,139.5 L71.3,137.3 L73.6,135.3 L75.9,133.3 L78.1,131.5 L80.4,129.7 L82.7,127.9 L85.0,126.2 L87.3,124.6 L89.6,123.1 L91.9,121.8 L94.2,120.5 L96.5,119.3 L98.8,118.1 L101.1,116.9 L103.3,115.7 L105.6,114.6 L107.9,113.4 L110.2,112.2 L112.5,111.1 L114.8,110.0 L117.1,108.9 L119.4,107.7 L121.7,106.3 L124.0,104.7 L126.3,103.0 L128.5,101.0 L130.8,98.9 L133.1,96.8 L135.4,94.5 L137.7,91.9 L140.0,88.9" fill="none" stroke="#c8304a" stroke-width="0.75" stroke-opacity="0.9"/><path d="M14.0,195.0 L16.3,192.9 L18.6,190.9 L20.9,188.8 L23.2,186.7 L25.5,184.5 L27.7,182.4 L30.0,180.2 L32.3,178.0 L34.6,175.7 L36.9,173.4 L39.2,171.1 L41.5,168.8 L43.8,166.5 L46.1,164.3 L48.4,162.2 L50.7,160.2 L52.9,158.4 L55.2,156.6 L57.5,154.9 L59.8,153.1 L62.1,151.2 L64.4,149.3 L66.7,147.3 L69.0,145.3 L71.3,143.4 L73.6,141.5 L75.9,139.6 L78.1,137.8 L80.4,136.1 L82.7,134.4 L85.0,132.7 L87.3,131.2 L89.6,129.7 L91.9,128.3 L94.2,127.0 L96.5,125.8 L98.8,124.6 L101.1,123.3 L103.3,122.1 L105.6,120.9 L107.9,119.6 L110.2,118.5 L112.5,117.3 L114.8,116.3 L117.1,115.2 L119.4,114.0 L121.7,112.6 L124.0,110.8 L126.3,108.7 L128.5,106.4 L130.8,104.0 L133.1,101.6 L135.4,99.5 L137.7,97.5 L140.0,95.3" fill="none" stroke="#d04a3a" stroke-width="0.75" stroke-opacity="0.9"/><path d="M14.0,195.0 L16.3,192.9 L18.6,190.7 L20.9,188.5 L23.2,186.3 L25.5,184.1 L27.7,181.8 L30.0,179.5 L32.3,177.1 L34.6,174.7 L36.9,172.3 L39.2,169.8 L41.5,167.4 L43.8,164.9 L46.1,162.5 L48.4,160.2 L50.7,157.9 L52.9,155.7 L55.2,153.6 L57.5,151.5 L59.8,149.4 L62.1,147.2 L64.4,144.9 L66.7,142.6 L69.0,140.4 L71.3,138.3 L73.6,136.3 L75.9,134.4 L78.1,132.5 L80.4,130.7 L82.7,129.0 L85.0,127.3 L87.3,125.7 L89.6,124.2 L91.9,122.9 L94.2,121.6 L96.5,120.4 L98.8,119.2 L101.1,118.0 L103.3,116.8 L105.6,115.6 L107.9,114.4 L110.2,113.2 L112.5,112.1 L114.8,111.0 L117.1,109.9 L119.4,108.7 L121.7,107.4 L124.0,105.8 L126.3,104.0 L128.5,102.0 L130.8,99.8 L133.1,97.6 L135.4,95.3 L137.7,92.6 L140.0,89.7" fill="none" stroke="#6a48a8" stroke-width="0.75" stroke-opacity="0.9"/><path d="M14.0,195.0 L16.3,192.9 L18.6,190.8 L20.9,188.7 L23.2,186.5 L25.5,184.4 L27.7,182.2 L30.0,180.0 L32.3,177.7 L34.6,175.4 L36.9,173.0 L39.2,170.6 L41.5,168.3 L43.8,166.0 L46.1,163.7 L48.4,161.5 L50.7,159.4 L52.9,157.5 L55.2,155.6 L57.5,153.8 L59.8,151.9 L62.1,149.9 L64.4,147.8 L66.7,145.7 L69.0,143.7 L71.3,141.7 L73.6,139.8 L75.9,137.9 L78.1,136.0 L80.4,134.3 L82.7,132.6 L85.0,130.9 L87.3,129.3 L89.6,127.8 L91.9,126.5 L94.2,125.2 L96.5,124.0 L98.8,122.8 L101.1,121.5 L103.3,120.3 L105.6,119.1 L107.9,117.9 L110.2,116.7 L112.5,115.6 L114.8,114.5 L117.1,113.4 L119.4,112.2 L121.7,110.8 L124.0,109.1 L126.3,107.1 L128.5,104.9 L130.8,102.6 L133.1,100.3 L135.4,98.1 L137.7,95.8 L140.0,93.4" fill="none" stroke="#c8304a" stroke-width="0.75" stroke-opacity="0.9"/><path d="M14.0,195.0 L16.3,193.0 L18.6,190.9 L20.9,188.8 L23.2,186.7 L25.5,184.6 L27.7,182.5 L30.0,180.4 L32.3,178.2 L34.6,175.9 L36.9,173.6 L39.2,171.3 L41.5,169.0 L43.8,166.8 L46.1,164.6 L48.4,162.6 L50.7,160.7 L52.9,158.9 L55.2,157.2 L57.5,155.6 L59.8,153.8 L62.1,152.0 L64.4,150.1 L66.7,148.2 L69.0,146.3 L71.3,144.5 L73.6,142.6 L75.9,140.7 L78.1,138.9 L80.4,137.2 L82.7,135.5 L85.0,133.8 L87.3,132.3 L89.6,130.8 L91.9,129.4 L94.2,128.1 L96.5,126.9 L98.8,125.6 L101.1,124.4 L103.3,123.2 L105.6,121.9 L107.9,120.7 L110.2,119.5 L112.5,118.4 L114.8,117.3 L117.1,116.2 L119.4,115.0 L121.7,113.6 L124.0,111.8 L126.3,109.7 L128.5,107.4 L130.8,105.0 L133.1,102.6 L135.4,100.4 L137.7,98.1 L140.0,95.8" fill="none" stroke="#c8304a" stroke-width="0.75" stroke-opacity="0.9"/><path d="M14.0,195.0 L16.3,192.9 L18.6,190.8 L20.9,188.7 L23.2,186.6 L25.5,184.5 L27.7,182.3 L30.0,180.1 L32.3,177.9 L34.6,175.6 L36.9,173.2 L39.2,170.9 L41.5,168.5 L43.8,166.2 L46.1,164.0 L48.4,161.9 L50.7,159.8 L52.9,157.9 L55.2,156.1 L57.5,154.4 L59.8,152.5 L62.1,150.6 L64.4,148.6 L66.7,146.5 L69.0,144.5 L71.3,142.6 L73.6,140.7 L75.9,138.8 L78.1,137.0 L80.4,135.2 L82.7,133.5 L85.0,131.9 L87.3,130.3 L89.6,128.8 L91.9,127.4 L94.2,126.1 L96.5,124.9 L98.8,123.7 L101.1,122.5 L103.3,121.2 L105.6,120.0 L107.9,118.8 L110.2,117.6 L112.5,116.5 L114.8,115.4 L117.1,114.3 L119.4,113.1 L121.7,111.7 L124.0,110.0 L126.3,108.0 L128.5,105.8 L130.8,103.5 L133.1,101.1 L135.4,98.8 L137.7,96.4 L140.0,93.8" fill="none" stroke="#6a48a8" stroke-width="0.75" stroke-opacity="0.9"/><path d="M14.0,195.0 L16.3,192.9 L18.6,190.8 L20.9,188.7 L23.2,186.5 L25.5,184.3 L27.7,182.1 L30.0,179.9 L32.3,177.7 L34.6,175.3 L36.9,172.9 L39.2,170.6 L41.5,168.2 L43.8,165.8 L46.1,163.6 L48.4,161.4 L50.7,159.3 L52.9,157.3 L55.2,155.4 L57.5,153.5 L59.8,151.6 L62.1,149.6 L64.4,147.5 L66.7,145.4 L69.0,143.4 L71.3,141.4 L73.6,139.4 L75.9,137.5 L78.1,135.7 L80.4,133.9 L82.7,132.2 L85.0,130.6 L87.3,129.0 L89.6,127.5 L91.9,126.1 L94.2,124.8 L96.5,123.6 L98.8,122.4 L101.1,121.2 L103.3,120.0 L105.6,118.7 L107.9,117.5 L110.2,116.3 L112.5,115.2 L114.8,114.2 L117.1,113.1 L119.4,111.9 L121.7,110.5 L124.0,108.8 L126.3,106.8 L128.5,104.6 L130.8,102.4 L133.1,100.1 L135.4,97.8 L137.7,95.4 L140.0,92.8" fill="none" stroke="#4a58b0" stroke-width="0.75" stroke-opacity="0.9"/><path d="M14.0,195.0 L16.3,192.9 L18.6,190.7 L20.9,188.5 L23.2,186.3 L25.5,184.1 L27.7,181.8 L30.0,179.5 L32.3,177.2 L34.6,174.8 L36.9,172.3 L39.2,169.8 L41.5,167.4 L43.8,164.9 L46.1,162.5 L48.4,160.2 L50.7,157.9 L52.9,155.8 L55.2,153.7 L57.5,151.6 L59.8,149.5 L62.1,147.3 L64.4,145.0 L66.7,142.7 L69.0,140.5 L71.3,138.4 L73.6,136.4 L75.9,134.5 L78.1,132.6 L80.4,130.8 L82.7,129.1 L85.0,127.4 L87.3,125.8 L89.6,124.3 L91.9,123.0 L94.2,121.7 L96.5,120.5 L98.8,119.3 L101.1,118.1 L103.3,116.9 L105.6,115.7 L107.9,114.5 L110.2,113.3 L112.5,112.2 L114.8,111.1 L117.1,110.0 L119.4,108.8 L121.7,107.5 L124.0,105.8 L126.3,104.0 L128.5,102.0 L130.8,99.9 L133.1,97.7 L135.4,95.4 L137.7,92.8 L140.0,90.0" fill="none" stroke="#4a58b0" stroke-width="0.75" stroke-opacity="0.9"/><path d="M14.0,195.0 L16.3,192.9 L18.6,190.7 L20.9,188.6 L23.2,186.4 L25.5,184.2 L27.7,181.9 L30.0,179.6 L32.3,177.3 L34.6,174.9 L36.9,172.5 L39.2,170.1 L41.5,167.6 L43.8,165.2 L46.1,162.9 L48.4,160.6 L50.7,158.4 L52.9,156.3 L55.2,154.2 L57.5,152.2 L59.8,150.1 L62.1,148.0 L64.4,145.8 L66.7,143.6 L69.0,141.4 L71.3,139.4 L73.6,137.4 L75.9,135.4 L78.1,133.6 L80.4,131.8 L82.7,130.1 L85.0,128.4 L87.3,126.8 L89.6,125.3 L91.9,124.0 L94.2,122.7 L96.5,121.5 L98.8,120.3 L101.1,119.1 L103.3,117.8 L105.6,116.6 L107.9,115.5 L110.2,114.3 L112.5,113.1 L114.8,112.1 L117.1,111.0 L119.4,109.8 L121.7,108.4 L124.0,106.7 L126.3,104.8 L128.5,102.7 L130.8,100.5 L133.1,98.3 L135.4,96.2 L137.7,94.0 L140.0,91.6" fill="none" stroke="#d04a3a" stroke-width="0.75" stroke-opacity="0.9"/><path d="M14.0,195.0 L16.3,192.8 L18.6,190.7 L20.9,188.5 L23.2,186.2 L25.5,184.0 L27.7,181.7 L30.0,179.4 L32.3,177.0 L34.6,174.6 L36.9,172.1 L39.2,169.6 L41.5,167.1 L43.8,164.7 L46.1,162.2 L48.4,159.8 L50.7,157.5 L52.9,155.3 L55.2,153.2 L57.5,151.0 L59.8,148.8 L62.1,146.6 L64.4,144.2 L66.7,141.9 L69.0,139.7 L71.3,137.6 L73.6,135.5 L75.9,133.6 L78.1,131.7 L80.4,129.9 L82.7,128.2 L85.0,126.5 L87.3,124.9 L89.6,123.4 L91.9,122.0 L94.2,120.8 L96.5,119.6 L98.8,118.4 L101.1,117.2 L103.3,116.0 L105.6,114.8 L107.9,113.6 L110.2,112.4 L112.5,111.3 L114.8,110.2 L117.1,109.1 L119.4,107.9 L121.7,106.5 L124.0,104.9 L126.3,103.1 L128.5,101.1 L130.8,99.0 L133.1,96.8 L135.4,94.7 L137.7,92.4 L140.0,90.0" fill="none" stroke="#8a3a9c" stroke-width="0.75" stroke-opacity="0.9"/><path d="M14.0,195.0 L16.3,192.9 L18.6,190.7 L20.9,188.6 L23.2,186.4 L25.5,184.2 L27.7,182.0 L30.0,179.7 L32.3,177.4 L34.6,175.0 L36.9,172.6 L39.2,170.2 L41.5,167.8 L43.8,165.4 L46.1,163.1 L48.4,160.8 L50.7,158.6 L52.9,156.6 L55.2,154.6 L57.5,152.6 L59.8,150.6 L62.1,148.5 L64.4,146.3 L66.7,144.1 L69.0,142.0 L71.3,140.0 L73.6,138.0 L75.9,136.1 L78.1,134.2 L80.4,132.4 L82.7,130.7 L85.0,129.1 L87.3,127.5 L89.6,126.0 L91.9,124.6 L94.2,123.3 L96.5,122.1 L98.8,120.9 L101.1,119.7 L103.3,118.5 L105.6,117.3 L107.9,116.1 L110.2,114.9 L112.5,113.8 L114.8,112.7 L117.1,111.6 L119.4,110.4 L121.7,109.0 L124.0,107.4 L126.3,105.5 L128.5,103.4 L130.8,101.2 L133.1,99.0 L135.4,96.6 L137.7,94.0 L140.0,91.2" fill="none" stroke="#4a58b0" stroke-width="0.75" stroke-opacity="0.9"/><path d="M14.0,195.0 L16.3,192.9 L18.6,190.8 L20.9,188.7 L23.2,186.6 L25.5,184.4 L27.7,182.3 L30.0,180.1 L32.3,177.8 L34.6,175.5 L36.9,173.2 L39.2,170.8 L41.5,168.5 L43.8,166.2 L46.1,163.9 L48.4,161.8 L50.7,159.7 L52.9,157.8 L55.2,156.0 L57.5,154.2 L59.8,152.3 L62.1,150.4 L64.4,148.3 L66.7,146.3 L69.0,144.3 L71.3,142.4 L73.6,140.4 L75.9,138.5 L78.1,136.7 L80.4,135.0 L82.7,133.3 L85.0,131.6 L87.3,130.0 L89.6,128.5 L91.9,127.2 L94.2,125.9 L96.5,124.7 L98.8,123.4 L101.1,122.2 L103.3,121.0 L105.6,119.8 L107.9,118.6 L110.2,117.4 L112.5,116.2 L114.8,115.2 L117.1,114.1 L119.4,112.9 L121.7,111.5 L124.0,109.8 L126.3,107.9 L128.5,105.7 L130.8,103.4 L133.1,101.0 L135.4,98.6 L137.7,95.8 L140.0,92.7" fill="none" stroke="#7a3a8a" stroke-width="0.75" stroke-opacity="0.9"/><path d="M14.0,195.0 L16.3,192.8 L18.6,190.7 L20.9,188.5 L23.2,186.2 L25.5,184.0 L27.7,181.7 L30.0,179.4 L32.3,177.0 L34.6,174.6 L36.9,172.1 L39.2,169.6 L41.5,167.1 L43.8,164.6 L46.1,162.2 L48.4,159.8 L50.7,157.5 L52.9,155.3 L55.2,153.1 L57.5,150.9 L59.8,148.7 L62.1,146.5 L64.4,144.1 L66.7,141.8 L69.0,139.5 L71.3,137.4 L73.6,135.4 L75.9,133.4 L78.1,131.6 L80.4,129.8 L82.7,128.0 L85.0,126.3 L87.3,124.7 L89.6,123.2 L91.9,121.9 L94.2,120.6 L96.5,119.4 L98.8,118.2 L101.1,117.0 L103.3,115.8 L105.6,114.6 L107.9,113.5 L110.2,112.3 L112.5,111.2 L114.8,110.1 L117.1,109.0 L119.4,107.8 L121.7,106.4 L124.0,104.8 L126.3,103.0 L128.5,101.0 L130.8,98.9 L133.1,96.8 L135.4,94.6 L137.7,92.2 L140.0,89.6" fill="none" stroke="#b03a70" stroke-width="0.75" stroke-opacity="0.9"/><path d="M14.0,195.0 L16.3,192.9 L18.6,190.9 L20.9,188.8 L23.2,186.6 L25.5,184.5 L27.7,182.4 L30.0,180.2 L32.3,178.0 L34.6,175.7 L36.9,173.4 L39.2,171.0 L41.5,168.7 L43.8,166.4 L46.1,164.2 L48.4,162.1 L50.7,160.1 L52.9,158.3 L55.2,156.5 L57.5,154.8 L59.8,153.0 L62.1,151.1 L64.4,149.1 L66.7,147.2 L69.0,145.2 L71.3,143.3 L73.6,141.4 L75.9,139.5 L78.1,137.7 L80.4,135.9 L82.7,134.2 L85.0,132.6 L87.3,131.0 L89.6,129.5 L91.9,128.2 L94.2,126.9 L96.5,125.6 L98.8,124.4 L101.1,123.2 L103.3,121.9 L105.6,120.7 L107.9,119.5 L110.2,118.3 L112.5,117.2 L114.8,116.1 L117.1,115.0 L119.4,113.8 L121.7,112.4 L124.0,110.7 L126.3,108.6 L128.5,106.3 L130.8,103.9 L133.1,101.6 L135.4,99.4 L137.7,97.2 L140.0,94.9" fill="none" stroke="#b03a70" stroke-width="0.75" stroke-opacity="0.9"/><path d="M14.0,195.0 L16.3,193.0 L18.6,190.9 L20.9,188.8 L23.2,186.7 L25.5,184.6 L27.7,182.5 L30.0,180.4 L32.3,178.2 L34.6,175.9 L36.9,173.6 L39.2,171.3 L41.5,169.1 L43.8,166.8 L46.1,164.7 L48.4,162.6 L50.7,160.7 L52.9,158.9 L55.2,157.3 L57.5,155.6 L59.8,153.9 L62.1,152.1 L64.4,150.2 L66.7,148.3 L69.0,146.4 L71.3,144.5 L73.6,142.7 L75.9,140.8 L78.1,139.0 L80.4,137.2 L82.7,135.6 L85.0,133.9 L87.3,132.4 L89.6,130.9 L91.9,129.5 L94.2,128.2 L96.5,127.0 L98.8,125.7 L101.1,124.5 L103.3,123.2 L105.6,122.0 L107.9,120.8 L110.2,119.6 L112.5,118.5 L114.8,117.4 L117.1,116.3 L119.4,115.1 L121.7,113.7 L124.0,112.0 L126.3,110.0 L128.5,107.8 L130.8,105.4 L133.1,102.9 L135.4,100.3 L137.7,97.5 L140.0,94.3" fill="none" stroke="#b03a70" stroke-width="0.75" stroke-opacity="0.9"/><path d="M14.0,195.0 L16.3,193.0 L18.6,190.9 L20.9,188.9 L23.2,186.8 L25.5,184.7 L27.7,182.6 L30.0,180.5 L32.3,178.3 L34.6,176.1 L36.9,173.8 L39.2,171.5 L41.5,169.3 L43.8,167.0 L46.1,164.9 L48.4,162.9 L50.7,161.0 L52.9,159.3 L55.2,157.7 L57.5,156.1 L59.8,154.4 L62.1,152.6 L64.4,150.8 L66.7,148.9 L69.0,147.1 L71.3,145.2 L73.6,143.4 L75.9,141.5 L78.1,139.7 L80.4,138.0 L82.7,136.3 L85.0,134.7 L87.3,133.1 L89.6,131.6 L91.9,130.3 L94.2,129.0 L96.5,127.7 L98.8,126.5 L101.1,125.2 L103.3,124.0 L105.6,122.8 L107.9,121.5 L110.2,120.3 L112.5,119.2 L114.8,118.1 L117.1,117.1 L119.4,115.9 L121.7,114.4 L124.0,112.7 L126.3,110.7 L128.5,108.4 L130.8,105.9 L133.1,103.4 L135.4,100.9 L137.7,98.2 L140.0,95.1" fill="none" stroke="#6a7a4a" stroke-width="0.75" stroke-opacity="0.9"/><path d="M14.0,195.0 L16.3,192.9 L18.6,190.8 L20.9,188.6 L23.2,186.5 L25.5,184.3 L27.7,182.1 L30.0,179.9 L32.3,177.6 L34.6,175.2 L36.9,172.9 L39.2,170.5 L41.5,168.1 L43.8,165.7 L46.1,163.4 L48.4,161.2 L50.7,159.1 L52.9,157.1 L55.2,155.2 L57.5,153.3 L59.8,151.3 L62.1,149.3 L64.4,147.1 L66.7,145.0 L69.0,143.0 L71.3,141.0 L73.6,139.0 L75.9,137.1 L78.1,135.3 L80.4,133.5 L82.7,131.8 L85.0,130.1 L87.3,128.5 L89.6,127.0 L91.9,125.7 L94.2,124.4 L96.5,123.2 L98.8,122.0 L101.1,120.7 L103.3,119.5 L105.6,118.3 L107.9,117.1 L110.2,115.9 L112.5,114.8 L114.8,113.7 L117.1,112.6 L119.4,111.4 L121.7,110.1 L124.0,108.4 L126.3,106.5 L128.5,104.4 L130.8,102.1 L133.1,99.8 L135.4,97.4 L137.7,94.8 L140.0,91.9" fill="none" stroke="#6a48a8" stroke-width="0.75" stroke-opacity="0.9"/><path d="M14.0,195.0 L16.3,192.9 L18.6,190.8 L20.9,188.6 L23.2,186.4 L25.5,184.2 L27.7,182.0 L30.0,179.8 L32.3,177.5 L34.6,175.1 L36.9,172.7 L39.2,170.3 L41.5,167.9 L43.8,165.5 L46.1,163.2 L48.4,160.9 L50.7,158.7 L52.9,156.7 L55.2,154.7 L57.5,152.8 L59.8,150.8 L62.1,148.7 L64.4,146.5 L66.7,144.4 L69.0,142.2 L71.3,140.2 L73.6,138.3 L75.9,136.3 L78.1,134.5 L80.4,132.7 L82.7,131.0 L85.0,129.3 L87.3,127.7 L89.6,126.3 L91.9,124.9 L94.2,123.6 L96.5,122.4 L98.8,121.2 L101.1,120.0 L103.3,118.8 L105.6,117.5 L107.9,116.3 L110.2,115.2 L112.5,114.0 L114.8,113.0 L117.1,111.9 L119.4,110.7 L121.7,109.3 L124.0,107.6 L126.3,105.7 L128.5,103.6 L130.8,101.3 L133.1,99.1 L135.4,96.9 L137.7,94.5 L140.0,92.0" fill="none" stroke="#c8304a" stroke-width="0.75" stroke-opacity="0.9"/><path d="M14.0,195.0 L16.3,192.9 L18.6,190.9 L20.9,188.8 L23.2,186.7 L25.5,184.6 L27.7,182.5 L30.0,180.3 L32.3,178.1 L34.6,175.8 L36.9,173.5 L39.2,171.2 L41.5,168.9 L43.8,166.7 L46.1,164.5 L48.4,162.4 L50.7,160.4 L52.9,158.7 L55.2,157.0 L57.5,155.3 L59.8,153.5 L62.1,151.7 L64.4,149.7 L66.7,147.8 L69.0,145.9 L71.3,144.0 L73.6,142.1 L75.9,140.2 L78.1,138.4 L80.4,136.7 L82.7,135.0 L85.0,133.4 L87.3,131.8 L89.6,130.3 L91.9,128.9 L94.2,127.6 L96.5,126.4 L98.8,125.2 L101.1,123.9 L103.3,122.7 L105.6,121.5 L107.9,120.2 L110.2,119.0 L112.5,117.9 L114.8,116.9 L117.1,115.8 L119.4,114.6 L121.7,113.2 L124.0,111.4 L126.3,109.3 L128.5,107.0 L130.8,104.6 L133.1,102.2 L135.4,100.0 L137.7,97.6 L140.0,95.1" fill="none" stroke="#4a58b0" stroke-width="0.75" stroke-opacity="0.9"/><defs><linearGradient id="ug" x1="138" y1="0" x2="200" y2="0" gradientUnits="userSpaceOnUse"><stop offset="0" stop-color="#6a3a78" stop-opacity="0.8"/><stop offset="0.55" stop-color="#5a5a90" stop-opacity="0.45"/><stop offset="1" stop-color="#5a5a90" stop-opacity="0"/></linearGradient></defs><polygon points="138.0,91.5 139.6,89.5 141.2,87.5 142.8,85.7 144.4,83.9 145.9,82.2 147.5,80.7 149.1,79.2 150.7,77.9 152.3,76.7 153.9,75.4 155.5,74.3 157.1,73.2 158.7,72.1 160.3,71.0 161.8,69.9 163.4,68.6 165.0,67.3 166.6,65.9 168.2,64.5 169.8,63.1 171.4,61.7 173.0,60.3 174.6,59.0 176.2,57.6 177.7,56.4 179.3,55.2 180.9,54.1 182.5,53.0 184.1,52.0 185.7,51.1 187.3,50.3 188.9,49.5 190.5,48.8 192.1,48.2 193.6,47.6 195.2,46.9 196.8,46.3 198.4,45.6 200.0,44.9 200.0,55.1 198.4,56.0 196.8,56.8 195.2,57.6 193.6,58.3 192.1,59.1 190.5,59.8 188.9,60.6 187.3,61.5 185.7,62.4 184.1,63.4 182.5,64.5 180.9,65.6 179.3,66.8 177.7,68.2 176.2,69.8 174.6,71.4 173.0,73.1 171.4,74.6 169.8,76.1 168.2,77.5 166.6,78.9 165.0,80.3 163.4,81.6 161.8,82.9 160.3,84.0 158.7,84.9 157.1,85.5 155.5,85.9 153.9,86.2 152.3,86.6 150.7,87.1 149.1,88.0 147.5,89.0 145.9,90.2 144.4,91.4 142.8,92.9 141.2,94.4 139.6,96.0 138.0,97.8" fill="url(#ug)"/><path d="M132.0,98.1 L134.3,95.9 L136.6,93.5 L138.9,90.9 L141.1,88.0 L143.4,85.1 L145.7,82.3 L148.0,79.8 L150.3,77.7 L152.6,75.9 L154.9,74.5 L157.1,73.0 L159.4,71.5 L161.7,69.8 L164.0,68.0 L166.3,66.2 L168.6,64.3 L170.9,62.5 L173.1,60.6 L175.4,58.7 L177.7,56.9 L180.0,55.0 L264.3,8.0" fill="none" stroke="#f39a3c" stroke-width="0.7"/><path d="M132.0,99.3 L134.3,97.0 L136.6,94.6 L138.9,91.9 L141.1,89.0 L143.4,86.1 L145.7,83.2 L148.0,80.7 L150.3,78.6 L152.6,76.9 L154.9,75.5 L157.1,74.1 L159.4,72.7 L161.7,71.0 L164.0,69.1 L166.3,67.3 L168.6,65.4 L170.9,63.5 L173.1,61.6 L175.4,59.8 L177.7,57.9 L180.0,56.0 L264.3,8.2" fill="none" stroke="#f39a3c" stroke-width="0.7"/><path d="M132.0,101.1 L134.3,98.7 L136.6,96.3 L138.9,93.5 L141.1,90.5 L143.4,87.5 L145.7,84.6 L148.0,82.1 L150.3,80.0 L152.6,78.4 L154.9,77.0 L157.1,75.7 L159.4,74.3 L161.7,72.6 L164.0,70.8 L166.3,68.9 L168.6,66.9 L170.9,65.0 L173.1,63.2 L175.4,61.3 L177.7,59.4 L180.0,57.5 L264.3,8.4" fill="none" stroke="#f39a3c" stroke-width="0.7"/><path d="M132.0,102.7 L134.3,100.3 L136.6,97.8 L138.9,94.9 L141.1,91.9 L143.4,88.8 L145.7,85.9 L148.0,83.3 L150.3,81.3 L152.6,79.7 L154.9,78.4 L157.1,77.1 L159.4,75.7 L161.7,74.1 L164.0,72.2 L166.3,70.3 L168.6,68.3 L170.9,66.4 L173.1,64.5 L175.4,62.7 L177.7,60.8 L180.0,58.9 L264.3,8.6" fill="none" stroke="#f39a3c" stroke-width="0.7"/><path d="M132.0,104.3 L134.3,101.8 L136.6,99.3 L138.9,96.4 L141.1,93.3 L143.4,90.1 L145.7,87.2 L148.0,84.6 L150.3,82.6 L152.6,81.1 L154.9,79.8 L157.1,78.6 L159.4,77.3 L161.7,75.6 L164.0,73.7 L166.3,71.8 L168.6,69.8 L170.9,67.8 L173.1,66.0 L175.4,64.1 L177.7,62.2 L180.0,60.3 L264.3,8.9" fill="none" stroke="#f39a3c" stroke-width="0.7"/><path d="M132.0,97.9 L134.3,95.7 L136.6,93.4 L138.9,90.9 L141.1,88.3 L143.4,85.6 L145.7,83.0 L148.0,80.7 L150.3,78.7 L152.6,77.1 L154.9,75.8 L157.1,74.5 L159.4,73.0 L161.7,71.4 L164.0,69.6 L166.3,67.7 L168.6,65.8 L170.9,63.9 L173.1,62.0 L175.4,60.1 L177.7,58.1 L180.0,56.1 L264.3,11.0" fill="none" stroke="#6cbf4c" stroke-width="0.7"/><path d="M132.0,99.6 L134.3,97.3 L136.6,95.0 L138.9,92.4 L141.1,89.7 L143.4,86.9 L145.7,84.3 L148.0,82.0 L150.3,80.0 L152.6,78.5 L154.9,77.2 L157.1,76.0 L159.4,74.6 L161.7,72.9 L164.0,71.1 L166.3,69.2 L168.6,67.3 L170.9,65.4 L173.1,63.4 L175.4,61.5 L177.7,59.5 L180.0,57.6 L264.3,11.2" fill="none" stroke="#6cbf4c" stroke-width="0.7"/><path d="M132.0,100.9 L134.3,98.6 L136.6,96.2 L138.9,93.6 L141.1,90.8 L143.4,88.0 L145.7,85.4 L148.0,83.0 L150.3,81.1 L152.6,79.6 L154.9,78.4 L157.1,77.2 L159.4,75.8 L161.7,74.2 L164.0,72.4 L166.3,70.4 L168.6,68.5 L170.9,66.5 L173.1,64.6 L175.4,62.6 L177.7,60.7 L180.0,58.7 L264.3,11.4" fill="none" stroke="#6cbf4c" stroke-width="0.7"/><path d="M132.0,103.0 L134.3,100.6 L136.6,98.2 L138.9,95.4 L141.1,92.6 L143.4,89.7 L145.7,87.0 L148.0,84.6 L150.3,82.8 L152.6,81.3 L154.9,80.1 L157.1,79.0 L159.4,77.7 L161.7,76.1 L164.0,74.3 L166.3,72.3 L168.6,70.3 L170.9,68.3 L173.1,66.4 L175.4,64.4 L177.7,62.4 L180.0,60.4 L264.3,11.7" fill="none" stroke="#6cbf4c" stroke-width="0.7"/><path d="M132.0,104.4 L134.3,102.0 L136.6,99.5 L138.9,96.7 L141.1,93.8 L143.4,90.9 L145.7,88.1 L148.0,85.8 L150.3,83.9 L152.6,82.5 L154.9,81.4 L157.1,80.3 L159.4,79.0 L161.7,77.4 L164.0,75.6 L166.3,73.6 L168.6,71.5 L170.9,69.6 L173.1,67.6 L175.4,65.6 L177.7,63.6 L180.0,61.6 L264.3,11.9" fill="none" stroke="#6cbf4c" stroke-width="0.7"/><path d="M132.0,98.2 L134.3,96.1 L136.6,94.0 L138.9,91.8 L141.1,89.5 L143.4,87.2 L145.7,85.0 L148.0,83.1 L150.3,81.5 L152.6,80.2 L154.9,79.1 L157.1,78.0 L159.4,76.8 L161.7,75.2 L164.0,73.5 L166.3,71.5 L168.6,69.5 L170.9,67.5 L173.1,65.5 L175.4,63.4 L177.7,61.3 L180.0,59.1 L264.3,17.1" fill="none" stroke="#3a4cb0" stroke-width="0.7"/><path d="M132.0,99.6 L134.3,97.5 L136.6,95.3 L138.9,93.0 L141.1,90.7 L143.4,88.3 L145.7,86.2 L148.0,84.2 L150.3,82.6 L152.6,81.3 L154.9,80.3 L157.1,79.3 L159.4,78.1 L161.7,76.6 L164.0,74.7 L166.3,72.8 L168.6,70.7 L170.9,68.7 L173.1,66.7 L175.4,64.6 L177.7,62.4 L180.0,60.3 L264.3,17.3" fill="none" stroke="#3a4cb0" stroke-width="0.7"/><path d="M132.0,101.6 L134.3,99.3 L136.6,97.1 L138.9,94.7 L141.1,92.3 L143.4,89.9 L145.7,87.7 L148.0,85.7 L150.3,84.1 L152.6,82.9 L154.9,81.9 L157.1,81.0 L159.4,79.8 L161.7,78.3 L164.0,76.5 L166.3,74.5 L168.6,72.4 L170.9,70.4 L173.1,68.3 L175.4,66.2 L177.7,64.1 L180.0,61.9 L264.3,17.5" fill="none" stroke="#3a4cb0" stroke-width="0.7"/><path d="M132.0,102.7 L134.3,100.4 L136.6,98.2 L138.9,95.8 L141.1,93.3 L143.4,90.8 L145.7,88.6 L148.0,86.6 L150.3,85.0 L152.6,83.9 L154.9,82.9 L157.1,82.0 L159.4,80.9 L161.7,79.4 L164.0,77.6 L166.3,75.5 L168.6,73.4 L170.9,71.4 L173.1,69.3 L175.4,67.2 L177.7,65.0 L180.0,62.9 L264.3,17.7" fill="none" stroke="#3a4cb0" stroke-width="0.7"/><path d="M132.0,104.3 L134.3,102.0 L136.6,99.7 L138.9,97.2 L141.1,94.6 L143.4,92.1 L145.7,89.8 L148.0,87.9 L150.3,86.3 L152.6,85.2 L154.9,84.3 L157.1,83.4 L159.4,82.4 L161.7,80.9 L164.0,79.1 L166.3,77.0 L168.6,74.8 L170.9,72.8 L173.1,70.7 L175.4,68.6 L177.7,66.4 L180.0,64.2 L264.3,17.9" fill="none" stroke="#3a4cb0" stroke-width="0.7"/><path d="M132.0,98.8 L134.3,96.7 L136.6,94.8 L138.9,92.9 L141.1,90.9 L143.4,89.0 L145.7,87.3 L148.0,85.7 L150.3,84.4 L152.6,83.4 L154.9,82.6 L157.1,81.7 L159.4,80.7 L161.7,79.3 L164.0,77.5 L166.3,75.5 L168.6,73.4 L170.9,71.3 L173.1,69.1 L175.4,66.9 L177.7,64.6 L180.0,62.2 L264.3,23.2" fill="none" stroke="#b890d8" stroke-width="0.7"/><path d="M132.0,100.4 L134.3,98.3 L136.6,96.3 L138.9,94.3 L141.1,92.3 L143.4,90.3 L145.7,88.5 L148.0,87.0 L150.3,85.7 L152.6,84.7 L154.9,83.9 L157.1,83.2 L159.4,82.2 L161.7,80.8 L164.0,79.0 L166.3,76.9 L168.6,74.8 L170.9,72.7 L173.1,70.5 L175.4,68.3 L177.7,66.0 L180.0,63.6 L264.3,23.4" fill="none" stroke="#b890d8" stroke-width="0.7"/><path d="M132.0,101.8 L134.3,99.6 L136.6,97.6 L138.9,95.6 L141.1,93.5 L143.4,91.5 L145.7,89.7 L148.0,88.1 L150.3,86.8 L152.6,85.9 L154.9,85.1 L157.1,84.4 L159.4,83.5 L161.7,82.1 L164.0,80.3 L166.3,78.2 L168.6,76.0 L170.9,73.9 L173.1,71.7 L175.4,69.5 L177.7,67.1 L180.0,64.8 L264.3,23.6" fill="none" stroke="#b890d8" stroke-width="0.7"/><path d="M132.0,103.5 L134.3,101.2 L136.6,99.1 L138.9,97.0 L141.1,94.9 L143.4,92.8 L145.7,90.9 L148.0,89.3 L150.3,88.1 L152.6,87.2 L154.9,86.5 L157.1,85.9 L159.4,85.0 L161.7,83.7 L164.0,81.8 L166.3,79.7 L168.6,77.5 L170.9,75.3 L173.1,73.1 L175.4,70.9 L177.7,68.5 L180.0,66.1 L264.3,23.8" fill="none" stroke="#b890d8" stroke-width="0.7"/><path d="M132.0,104.8 L134.3,102.5 L136.6,100.4 L138.9,98.2 L141.1,96.0 L143.4,93.9 L145.7,92.0 L148.0,90.4 L150.3,89.2 L152.6,88.3 L154.9,87.7 L157.1,87.1 L159.4,86.2 L161.7,85.0 L164.0,83.1 L166.3,80.9 L168.6,78.7 L170.9,76.5 L173.1,74.3 L175.4,72.0 L177.7,69.7 L180.0,67.3 L264.3,24.0" fill="none" stroke="#b890d8" stroke-width="0.7"/><path d="M132.0,97.8 L134.3,95.6 L136.6,93.2 L138.9,90.4 L141.1,87.4 L143.4,84.2 L145.7,81.2 L148.0,78.5 L150.3,76.2 L152.6,74.4 L154.9,72.8 L157.1,71.2 L159.4,69.6 L161.7,67.9 L164.0,66.1 L166.3,64.3 L168.6,62.4 L170.9,60.6 L173.1,58.8 L175.4,57.1 L177.7,55.3 L180.0,53.5 L264.3,4.8" fill="none" stroke="#e83a30" stroke-width="0.7"/><path d="M132.0,99.4 L134.3,97.1 L136.6,94.6 L138.9,91.8 L141.1,88.7 L143.4,85.5 L145.7,82.5 L148.0,79.7 L150.3,77.5 L152.6,75.7 L154.9,74.1 L157.1,72.6 L159.4,71.1 L161.7,69.3 L164.0,67.5 L166.3,65.7 L168.6,63.8 L170.9,62.0 L173.1,60.2 L175.4,58.4 L177.7,56.6 L180.0,54.8 L264.3,5.0" fill="none" stroke="#e83a30" stroke-width="0.7"/><path d="M132.0,101.2 L134.3,98.8 L136.6,96.3 L138.9,93.4 L141.1,90.2 L143.4,87.0 L145.7,83.9 L148.0,81.1 L150.3,78.9 L152.6,77.2 L154.9,75.7 L157.1,74.2 L159.4,72.7 L161.7,71.0 L164.0,69.2 L166.3,67.3 L168.6,65.4 L170.9,63.5 L173.1,61.7 L175.4,59.9 L177.7,58.1 L180.0,56.3 L264.3,5.2" fill="none" stroke="#e83a30" stroke-width="0.7"/><path d="M132.0,102.4 L134.3,100.0 L136.6,97.4 L138.9,94.4 L141.1,91.2 L143.4,87.9 L145.7,84.8 L148.0,82.1 L150.3,79.8 L152.6,78.1 L154.9,76.7 L157.1,75.3 L159.4,73.8 L161.7,72.1 L164.0,70.2 L166.3,68.3 L168.6,66.4 L170.9,64.6 L173.1,62.7 L175.4,60.9 L177.7,59.1 L180.0,57.3 L264.3,5.4" fill="none" stroke="#e83a30" stroke-width="0.7"/><path d="M132.0,104.0 L134.3,101.5 L136.6,98.8 L138.9,95.8 L141.1,92.5 L143.4,89.2 L145.7,86.0 L148.0,83.3 L150.3,81.1 L152.6,79.4 L154.9,78.0 L157.1,76.7 L159.4,75.2 L161.7,73.5 L164.0,71.6 L166.3,69.7 L168.6,67.8 L170.9,65.9 L173.1,64.1 L175.4,62.2 L177.7,60.4 L180.0,58.6 L264.3,5.6" fill="none" stroke="#e83a30" stroke-width="0.7"/><path d="M132.0,98.0 L134.3,95.8 L136.6,93.7 L138.9,91.3 L141.1,88.8 L143.4,86.3 L145.7,84.0 L148.0,81.8 L150.3,80.0 L152.6,78.6 L154.9,77.4 L157.1,76.2 L159.4,74.9 L161.7,73.3 L164.0,71.5 L166.3,69.5 L168.6,67.6 L170.9,65.6 L173.1,63.7 L175.4,61.7 L177.7,59.6 L180.0,57.6 L264.3,14.0" fill="none" stroke="#3fa0d8" stroke-width="0.7"/><path d="M132.0,100.2 L134.3,98.0 L136.6,95.7 L138.9,93.3 L141.1,90.7 L143.4,88.1 L145.7,85.7 L148.0,83.6 L150.3,81.8 L152.6,80.4 L154.9,79.3 L157.1,78.2 L159.4,76.9 L161.7,75.3 L164.0,73.5 L166.3,71.6 L168.6,69.5 L170.9,67.6 L173.1,65.6 L175.4,63.6 L177.7,61.5 L180.0,59.4 L264.3,14.3" fill="none" stroke="#3fa0d8" stroke-width="0.7"/><path d="M132.0,101.7 L134.3,99.4 L136.6,97.1 L138.9,94.6 L141.1,92.0 L143.4,89.4 L145.7,86.9 L148.0,84.7 L150.3,83.0 L152.6,81.7 L154.9,80.6 L157.1,79.5 L159.4,78.3 L161.7,76.7 L164.0,74.9 L166.3,72.9 L168.6,70.9 L170.9,68.9 L173.1,66.9 L175.4,64.9 L177.7,62.8 L180.0,60.7 L264.3,14.5" fill="none" stroke="#3fa0d8" stroke-width="0.7"/><path d="M132.0,103.0 L134.3,100.7 L136.6,98.3 L138.9,95.7 L141.1,93.1 L143.4,90.4 L145.7,87.9 L148.0,85.7 L150.3,84.0 L152.6,82.7 L154.9,81.7 L157.1,80.7 L159.4,79.5 L161.7,77.9 L164.0,76.1 L166.3,74.1 L168.6,72.0 L170.9,70.0 L173.1,68.0 L175.4,65.9 L177.7,63.9 L180.0,61.8 L264.3,14.7" fill="none" stroke="#3fa0d8" stroke-width="0.7"/><path d="M132.0,104.5 L134.3,102.1 L136.6,99.7 L138.9,97.1 L141.1,94.3 L143.4,91.6 L145.7,89.1 L148.0,86.9 L150.3,85.2 L152.6,84.0 L154.9,82.9 L157.1,82.0 L159.4,80.8 L161.7,79.3 L164.0,77.4 L166.3,75.4 L168.6,73.3 L170.9,71.3 L173.1,69.3 L175.4,67.2 L177.7,65.1 L180.0,63.0 L264.3,14.9" fill="none" stroke="#3fa0d8" stroke-width="0.7"/><path d="M132.0,98.4 L134.3,96.4 L136.6,94.4 L138.9,92.3 L141.1,90.1 L143.4,88.1 L145.7,86.1 L148.0,84.3 L150.3,82.9 L152.6,81.7 L154.9,80.8 L157.1,79.8 L159.4,78.7 L161.7,77.2 L164.0,75.4 L166.3,73.4 L168.6,71.4 L170.9,69.3 L173.1,67.2 L175.4,65.1 L177.7,62.9 L180.0,60.6 L264.3,20.1" fill="none" stroke="#8a50b8" stroke-width="0.7"/><path d="M132.0,99.8 L134.3,97.7 L136.6,95.6 L138.9,93.5 L141.1,91.3 L143.4,89.2 L145.7,87.2 L148.0,85.4 L150.3,83.9 L152.6,82.8 L154.9,81.9 L157.1,81.0 L159.4,79.9 L161.7,78.5 L164.0,76.7 L166.3,74.7 L168.6,72.5 L170.9,70.5 L173.1,68.4 L175.4,66.2 L177.7,64.0 L180.0,61.7 L264.3,20.3" fill="none" stroke="#8a50b8" stroke-width="0.7"/><path d="M132.0,101.7 L134.3,99.4 L136.6,97.3 L138.9,95.1 L141.1,92.9 L143.4,90.7 L145.7,88.6 L148.0,86.8 L150.3,85.4 L152.6,84.4 L154.9,83.5 L157.1,82.7 L159.4,81.6 L161.7,80.2 L164.0,78.4 L166.3,76.3 L168.6,74.2 L170.9,72.1 L173.1,70.0 L175.4,67.8 L177.7,65.6 L180.0,63.3 L264.3,20.5" fill="none" stroke="#8a50b8" stroke-width="0.7"/><path d="M132.0,103.2 L134.3,100.9 L136.6,98.7 L138.9,96.4 L141.1,94.1 L143.4,91.9 L145.7,89.8 L148.0,88.0 L150.3,86.6 L152.6,85.6 L154.9,84.8 L157.1,84.0 L159.4,83.0 L161.7,81.6 L164.0,79.8 L166.3,77.7 L168.6,75.5 L170.9,73.4 L173.1,71.3 L175.4,69.1 L177.7,66.8 L180.0,64.5 L264.3,20.7" fill="none" stroke="#8a50b8" stroke-width="0.7"/><path d="M132.0,105.0 L134.3,102.6 L136.6,100.4 L138.9,98.0 L141.1,95.7 L143.4,93.4 L145.7,91.2 L148.0,89.4 L150.3,88.0 L152.6,87.1 L154.9,86.3 L157.1,85.6 L159.4,84.7 L161.7,83.3 L164.0,81.4 L166.3,79.3 L168.6,77.1 L170.9,75.0 L173.1,72.8 L175.4,70.6 L177.7,68.4 L180.0,66.1 L264.3,21.0" fill="none" stroke="#8a50b8" stroke-width="0.7"/><polygon points="123.6,99.5 146.2,85.4 149.1,88.6 145.7,110.8 122.7,125.5 118.9,123.6" fill="#dae7f7"/><polygon points="123.6,99.5 146.2,85.4 149.1,88.6 128.2,102.3" fill="#c0d7f1"/><polygon points="123.6,99.5 128.2,102.3 122.7,125.5 118.9,123.6" fill="#a6c7ec"/><polyline points="123.6,99.5 146.2,85.4 149.1,88.6 145.7,110.8 122.7,125.5 118.9,123.6" fill="none" stroke="#151515" stroke-width="1.1" stroke-linejoin="round"/><line x1="123.6" y1="99.5" x2="118.9" y2="123.6" stroke="#8fb0d4" stroke-width="0.6"/><polygon points="252.3,2.2 276.5,5.8 277,27 252.5,24.4" fill="none" stroke="#a8a8a8" stroke-width="0.9"/>
<rect x="268.2" y="4.3" width="1.1" height="1.1" fill="#e2302e" fill-opacity="0.7"/><rect x="273.5" y="4.7" width="1.1" height="1.1" fill="#e2302e" fill-opacity="0.7"/><rect x="268.2" y="8.8" width="1.1" height="1.1" fill="#f29538" fill-opacity="0.7"/><rect x="273.5" y="9.2" width="1.1" height="1.1" fill="#f29538" fill-opacity="0.7"/><rect x="268.2" y="12.3" width="1.1" height="1.1" fill="#7cbf4a" fill-opacity="0.7"/><rect x="273.5" y="12.7" width="1.1" height="1.1" fill="#7cbf4a" fill-opacity="0.7"/><rect x="268.2" y="15.5" width="1.1" height="1.1" fill="#45a0d8" fill-opacity="0.7"/><rect x="273.5" y="15.9" width="1.1" height="1.1" fill="#45a0d8" fill-opacity="0.7"/><rect x="268.2" y="18.5" width="1.1" height="1.1" fill="#3452b8" fill-opacity="0.7"/><rect x="273.5" y="18.9" width="1.1" height="1.1" fill="#3452b8" fill-opacity="0.7"/><rect x="268.2" y="23.5" width="1.1" height="1.1" fill="#8c48b4" fill-opacity="0.7"/><rect x="273.5" y="23.9" width="1.1" height="1.1" fill="#8c48b4" fill-opacity="0.7"/><rect x="253.2" y="4.0" width="1.1" height="1.1" fill="#e2302e" fill-opacity="0.6"/><rect x="258.1" y="4.4" width="1.1" height="1.1" fill="#e2302e" fill-opacity="0.6"/><rect x="253.2" y="8.2" width="1" height="1" fill="#f29538" fill-opacity="0.4"/><path d="M107.8,112.2 Q107.6,104.2 115.8,101.2" fill="none" stroke="#111" stroke-width="1.6"/><polygon points="114.5,98.8 120.8,100.7 116.4,104.4" fill="#111"/><text x="145.2" y="163.6" font-size="14.5" font-weight="bold" fill="#111">b)</text>
<path d="M164.9,181 H396 V330.1 H164.9 Z" fill="none" stroke="#161616" stroke-width="1.3"/>
<line x1="206.8" y1="324.5" x2="206.8" y2="330" stroke="#1a1a1a" stroke-width="1.4"/><line x1="249.0" y1="324.5" x2="249.0" y2="330" stroke="#1a1a1a" stroke-width="1.4"/><line x1="291.2" y1="324.5" x2="291.2" y2="330" stroke="#1a1a1a" stroke-width="1.4"/><line x1="333.5" y1="324.5" x2="333.5" y2="330" stroke="#1a1a1a" stroke-width="1.4"/><line x1="375.8" y1="324.5" x2="375.8" y2="330" stroke="#1a1a1a" stroke-width="1.4"/><line x1="164.8" y1="256.8" x2="171.5" y2="256.8" stroke="#1a1a1a" stroke-width="1.4"/><text x="164.5" y="345.5" font-size="12.5" fill="#1a1a1a" text-anchor="middle">5</text><text x="206.8" y="345.5" font-size="12.5" fill="#1a1a1a" text-anchor="middle">15</text><text x="249.0" y="345.5" font-size="12.5" fill="#1a1a1a" text-anchor="middle">25</text><text x="291.2" y="345.5" font-size="12.5" fill="#1a1a1a" text-anchor="middle">35</text><text x="333.5" y="345.5" font-size="12.5" fill="#1a1a1a" text-anchor="middle">45</text><text x="375.8" y="345.5" font-size="12.5" fill="#1a1a1a" text-anchor="middle">55</text><text x="140.8" y="188" font-size="13" fill="#1a1a1a">1.0</text><text x="140.3" y="261.3" font-size="13" fill="#1a1a1a">0.5</text><text x="140.5" y="333.5" font-size="13" fill="#1a1a1a">0.0</text><text x="230" y="365.2" font-size="13.5" font-weight="bold" fill="#111" textLength="83" lengthAdjust="spacing">Nanometers</text><text x="175" y="195.3" font-size="12.5" font-weight="bold" fill="#0f7cc6" textLength="66" lengthAdjust="spacing">1200g/mm</text><text x="253" y="202.3" font-size="12.5" font-weight="bold" fill="#111" textLength="59" lengthAdjust="spacing">600g/mm</text><text x="323.4" y="203.5" font-size="12.5" font-weight="bold" fill="#c8161e" textLength="58.5" lengthAdjust="spacing">333g/mm</text><path d="M174.61,319.99 L174.97,318.91 L175.32,317.82 L175.65,316.72 L175.98,315.61 L176.29,314.50 L176.58,313.37 L176.87,312.24 L177.15,311.10 L177.41,309.95 L177.67,308.80 L177.91,307.64 L178.15,306.48 L178.37,305.31 L178.59,304.13 L178.80,302.96 L179.00,301.77 L179.19,300.59 L179.38,299.40 L179.56,298.20 L179.73,297.01 L179.89,295.81 L180.06,294.61 L180.21,293.42 L180.36,292.21 L180.51,291.01 L180.65,289.81 L180.79,288.61 L180.92,287.41 L181.06,286.21 L181.19,285.01 L181.31,283.82 L181.44,282.63 L181.56,281.44 L181.69,280.25 L181.81,279.06 L181.93,277.88 L182.06,276.71 L182.18,275.54 L182.30,274.37 L182.43,273.21 L182.56,272.05 L182.68,270.89 L182.81,269.74 L182.94,268.60 L183.07,267.45 L183.20,266.31 L183.34,265.17 L183.47,264.03 L183.61,262.90 L183.74,261.76 L183.88,260.63 L184.02,259.50 L184.16,258.36 L184.30,257.23 L184.45,256.10 L184.59,254.96 L184.74,253.83 L184.89,252.69 L185.04,251.56 L185.19,250.42 L185.34,249.28 L185.50,248.13 L185.66,246.98 L185.81,245.83 L185.97,244.68 L186.14,243.52 L186.30,242.36 L186.47,241.19 L186.64,240.02 L186.80,238.84 L186.98,237.66 L187.15,236.47 L187.33,235.27 L187.51,234.07 L187.69,232.87 L187.87,231.65 L188.05,230.43 L188.24,229.20 L188.43,227.96 L188.62,226.71 L188.82,225.45 L189.01,224.19 L189.22,222.92 L189.43,221.65 L189.67,220.39 L189.93,219.16 L190.23,217.94 L190.57,216.76 L190.96,215.63 L191.41,214.54 L191.91,213.51 L192.49,212.54 L193.14,211.65 L193.88,210.84 L194.71,210.12 L195.61,209.52 L196.56,209.08 L197.53,208.86 L198.51,208.87 L199.49,209.09 L200.46,209.50 L201.42,210.08 L202.37,210.80 L203.29,211.64 L204.18,212.59 L205.05,213.62 L205.87,214.71 L206.66,215.83 L207.39,216.97 L208.08,218.11 L208.71,219.23 L209.30,220.35 L209.86,221.46 L210.38,222.56 L210.88,223.66 L211.36,224.75 L211.82,225.84 L212.28,226.93 L212.73,228.02 L213.19,229.11 L213.64,230.20 L214.10,231.29 L214.56,232.37 L215.03,233.46 L215.49,234.55 L215.96,235.63 L216.43,236.72 L216.90,237.80 L217.38,238.88 L217.86,239.96 L218.35,241.03 L218.84,242.11 L219.34,243.18 L219.84,244.25 L220.34,245.32 L220.85,246.38 L221.37,247.44 L221.89,248.50 L222.42,249.55 L222.95,250.60 L223.50,251.65 L224.04,252.69 L224.60,253.73 L225.16,254.76 L225.74,255.79 L226.31,256.81 L226.90,257.83 L227.50,258.84 L228.10,259.85 L228.72,260.86 L229.34,261.85 L229.97,262.84 L230.62,263.83 L231.27,264.80 L231.93,265.78 L232.61,266.74 L233.29,267.70 L233.99,268.65 L234.70,269.59 L235.41,270.53 L236.14,271.46 L236.88,272.38 L237.63,273.30 L238.38,274.20 L239.15,275.10 L239.93,276.00 L240.71,276.88 L241.51,277.76 L242.31,278.63 L243.13,279.49 L243.95,280.34 L244.78,281.19 L245.62,282.03 L246.47,282.85 L247.32,283.68 L248.19,284.49 L249.06,285.29 L249.94,286.09 L250.82,286.87 L251.72,287.65 L252.62,288.42 L253.53,289.18 L254.44,289.94 L255.36,290.68 L256.29,291.42 L257.22,292.14 L258.16,292.86 L259.11,293.57 L260.06,294.26 L261.02,294.95 L261.98,295.63 L262.95,296.30 L263.93,296.97 L264.91,297.62 L265.90,298.26 L266.89,298.90 L267.89,299.52 L268.89,300.14 L269.90,300.74 L270.92,301.34 L271.93,301.93 L272.96,302.50 L273.99,303.07 L275.02,303.63 L276.06,304.18 L277.11,304.72 L278.16,305.26 L279.21,305.78 L280.27,306.29 L281.33,306.79 L282.40,307.29 L283.48,307.77 L284.55,308.24 L285.63,308.71 L286.72,309.16 L287.81,309.61 L288.90,310.05 L290.00,310.47 L291.11,310.89 L292.21,311.30 L293.32,311.69 L294.44,312.08 L295.56,312.46 L296.68,312.83 L297.80,313.19 L298.93,313.54 L300.06,313.88 L301.20,314.21 L302.34,314.53 L303.48,314.84 L304.63,315.14 L305.78,315.43 L306.93,315.71 L308.09,315.98 L309.25,316.24 L310.41,316.49 L311.57,316.73 L312.74,316.96 L313.91,317.18" fill="none" stroke="#0f7cc6" stroke-width="2.6" stroke-dasharray="5.5,3.6"/><path d="M205.52,324.02 L205.92,323.10 L206.32,322.18 L206.72,321.27 L207.11,320.35 L207.49,319.43 L207.86,318.51 L208.23,317.59 L208.59,316.67 L208.95,315.76 L209.31,314.84 L209.65,313.92 L210.00,313.01 L210.33,312.09 L210.66,311.17 L210.99,310.26 L211.32,309.34 L211.63,308.42 L211.95,307.51 L212.26,306.59 L212.57,305.68 L212.87,304.76 L213.17,303.84 L213.46,302.93 L213.76,302.01 L214.05,301.10 L214.33,300.18 L214.61,299.26 L214.90,298.35 L215.17,297.43 L215.45,296.51 L215.72,295.60 L215.99,294.68 L216.26,293.76 L216.53,292.84 L216.80,291.93 L217.06,291.01 L217.32,290.09 L217.59,289.17 L217.85,288.25 L218.11,287.33 L218.37,286.41 L218.63,285.49 L218.88,284.57 L219.14,283.65 L219.40,282.73 L219.66,281.81 L219.92,280.88 L220.17,279.96 L220.43,279.04 L220.69,278.11 L220.95,277.19 L221.21,276.26 L221.48,275.34 L221.74,274.41 L222.00,273.48 L222.27,272.55 L222.54,271.63 L222.81,270.70 L223.08,269.77 L223.36,268.83 L223.63,267.90 L223.91,266.97 L224.19,266.04 L224.48,265.10 L224.76,264.17 L225.05,263.23 L225.35,262.29 L225.65,261.35 L225.95,260.41 L226.25,259.47 L226.56,258.53 L226.87,257.59 L227.19,256.65 L227.51,255.70 L227.83,254.76 L228.16,253.81 L228.49,252.86 L228.83,251.92 L229.18,250.97 L229.53,250.01 L229.88,249.06 L230.24,248.11 L230.61,247.16 L230.99,246.21 L231.37,245.27 L231.76,244.32 L232.16,243.39 L232.58,242.45 L233.00,241.53 L233.43,240.61 L233.88,239.70 L234.34,238.80 L234.81,237.91 L235.30,237.03 L235.80,236.16 L236.31,235.30 L236.85,234.46 L237.40,233.63 L237.96,232.82 L238.54,232.03 L239.15,231.25 L239.77,230.48 L240.41,229.74 L241.07,229.02 L241.75,228.32 L242.46,227.64 L243.18,226.98 L243.93,226.35 L244.69,225.76 L245.48,225.20 L246.29,224.69 L247.11,224.23 L247.95,223.81 L248.81,223.46 L249.68,223.17 L250.57,222.95 L251.48,222.79 L252.40,222.72 L253.32,222.71 L254.26,222.78 L255.20,222.90 L256.14,223.08 L257.08,223.32 L258.02,223.60 L258.95,223.93 L259.87,224.30 L260.77,224.71 L261.66,225.15 L262.54,225.61 L263.41,226.11 L264.26,226.63 L265.11,227.17 L265.94,227.73 L266.77,228.30 L267.59,228.89 L268.40,229.49 L269.20,230.10 L270.00,230.72 L270.79,231.33 L271.58,231.95 L272.36,232.57 L273.14,233.18 L273.92,233.80 L274.69,234.42 L275.46,235.04 L276.22,235.67 L276.99,236.29 L277.74,236.91 L278.50,237.53 L279.25,238.16 L279.99,238.78 L280.74,239.41 L281.48,240.04 L282.22,240.66 L282.95,241.29 L283.69,241.92 L284.42,242.55 L285.15,243.18 L285.87,243.81 L286.60,244.44 L287.32,245.07 L288.04,245.71 L288.75,246.34 L289.47,246.98 L290.19,247.61 L290.90,248.25 L291.61,248.89 L292.32,249.53 L293.03,250.17 L293.74,250.81 L294.45,251.45 L295.15,252.09 L295.86,252.73 L296.57,253.38 L297.27,254.02 L297.98,254.67 L298.68,255.32 L299.39,255.96 L300.09,256.61 L300.80,257.26 L301.50,257.91 L302.21,258.56 L302.91,259.22 L303.62,259.87 L304.33,260.52 L305.04,261.18 L305.75,261.84 L306.46,262.49 L307.17,263.15 L307.88,263.81 L308.59,264.47 L309.31,265.13 L310.03,265.79 L310.75,266.45 L311.47,267.11 L312.19,267.77 L312.92,268.42 L313.65,269.07 L314.38,269.72 L315.12,270.37 L315.86,271.01 L316.60,271.64 L317.35,272.27 L318.10,272.90 L318.86,273.52 L319.62,274.13 L320.38,274.74 L321.15,275.33 L321.93,275.92 L322.71,276.50 L323.49,277.07 L324.28,277.63 L325.08,278.19 L325.88,278.73 L326.69,279.25 L327.51,279.77 L328.33,280.28 L329.16,280.77 L330.00,281.25 L330.84,281.71 L331.69,282.17 L332.55,282.60 L333.42,283.02 L334.29,283.43 L335.17,283.82 L336.06,284.19 L336.96,284.54 L337.87,284.88 L338.79,285.20 L339.72,285.50 L340.66,285.78 L341.60,286.04 L342.56,286.28 L343.52,286.51 L344.50,286.70 L345.49,286.88 L346.49,287.04 L347.50,287.17 L348.51,287.28" fill="none" stroke="#000000" stroke-width="2.6" stroke-dasharray="5.5,3.6"/><path d="M262.02,326.52 L262.52,325.99 L263.01,325.45 L263.49,324.91 L263.97,324.37 L264.44,323.83 L264.92,323.28 L265.38,322.73 L265.85,322.17 L266.31,321.62 L266.76,321.06 L267.21,320.50 L267.66,319.93 L268.10,319.37 L268.55,318.80 L268.98,318.22 L269.42,317.65 L269.85,317.07 L270.27,316.49 L270.70,315.91 L271.12,315.33 L271.54,314.74 L271.95,314.16 L272.36,313.57 L272.77,312.98 L273.18,312.38 L273.58,311.79 L273.98,311.19 L274.38,310.59 L274.77,309.99 L275.17,309.39 L275.56,308.78 L275.95,308.18 L276.33,307.57 L276.72,306.96 L277.10,306.36 L277.48,305.74 L277.86,305.13 L278.24,304.52 L278.61,303.90 L278.99,303.29 L279.36,302.67 L279.73,302.05 L280.10,301.44 L280.47,300.82 L280.83,300.20 L281.20,299.58 L281.56,298.95 L281.92,298.33 L282.29,297.71 L282.65,297.09 L283.01,296.46 L283.37,295.84 L283.73,295.21 L284.08,294.59 L284.44,293.96 L284.80,293.34 L285.16,292.71 L285.51,292.08 L285.87,291.46 L286.22,290.83 L286.58,290.21 L286.94,289.58 L287.29,288.95 L287.65,288.33 L288.00,287.70 L288.36,287.08 L288.72,286.45 L289.08,285.83 L289.43,285.21 L289.79,284.58 L290.15,283.96 L290.51,283.34 L290.87,282.72 L291.23,282.10 L291.60,281.48 L291.96,280.86 L292.32,280.24 L292.69,279.62 L293.06,279.01 L293.42,278.39 L293.79,277.78 L294.16,277.17 L294.54,276.56 L294.91,275.95 L295.29,275.34 L295.67,274.73 L296.04,274.12 L296.43,273.52 L296.81,272.92 L297.19,272.32 L297.58,271.72 L297.97,271.12 L298.36,270.52 L298.76,269.93 L299.16,269.34 L299.55,268.75 L299.96,268.16 L300.36,267.57 L300.77,266.99 L301.18,266.41 L301.59,265.83 L302.01,265.25 L302.43,264.67 L302.85,264.10 L303.27,263.53 L303.70,262.96 L304.13,262.40 L304.57,261.84 L305.01,261.28 L305.45,260.72 L305.89,260.16 L306.34,259.61 L306.80,259.06 L307.25,258.52 L307.71,257.97 L308.18,257.43 L308.65,256.90 L309.12,256.36 L309.60,255.83 L310.08,255.31 L310.57,254.78 L311.06,254.26 L311.55,253.74 L312.05,253.23 L312.55,252.72 L313.06,252.21 L313.58,251.71 L314.09,251.21 L314.62,250.71 L315.15,250.22 L315.68,249.73 L316.22,249.25 L316.76,248.77 L317.31,248.29 L317.87,247.82 L318.43,247.35 L318.99,246.89 L319.56,246.43 L320.14,245.98 L320.72,245.52 L321.31,245.08 L321.90,244.64 L322.49,244.20 L323.09,243.77 L323.70,243.35 L324.31,242.93 L324.92,242.52 L325.54,242.11 L326.17,241.71 L326.79,241.31 L327.42,240.92 L328.06,240.54 L328.70,240.16 L329.34,239.79 L329.98,239.43 L330.63,239.08 L331.29,238.73 L331.94,238.39 L332.60,238.05 L333.26,237.73 L333.93,237.41 L334.60,237.10 L335.27,236.80 L335.94,236.50 L336.62,236.22 L337.30,235.94 L337.98,235.67 L338.66,235.41 L339.35,235.16 L340.03,234.92 L340.72,234.69 L341.41,234.47 L342.11,234.26 L342.80,234.05 L343.50,233.86 L344.19,233.68 L344.89,233.51 L345.59,233.34 L346.29,233.19 L346.99,233.05 L347.70,232.92 L348.40,232.80 L349.10,232.69 L349.81,232.59 L350.51,232.51 L351.22,232.43 L351.92,232.37 L352.63,232.32 L353.33,232.28 L354.04,232.26 L354.75,232.24 L355.45,232.24 L356.16,232.25 L356.86,232.27 L357.56,232.31 L358.26,232.35 L358.97,232.41 L359.67,232.49 L360.37,232.57 L361.06,232.67 L361.76,232.79 L362.46,232.91 L363.15,233.05 L363.84,233.20 L364.53,233.37 L365.22,233.55 L365.90,233.74 L366.58,233.95 L367.26,234.17 L367.94,234.41 L368.62,234.66 L369.29,234.92 L369.96,235.20 L370.63,235.49 L371.29,235.80 L371.95,236.11 L372.61,236.44 L373.26,236.78 L373.91,237.13 L374.56,237.49 L375.21,237.85 L375.85,238.23 L376.48,238.62 L377.12,239.01 L377.75,239.41 L378.38,239.81 L379.00,240.23 L379.62,240.64 L380.24,241.07 L380.85,241.49 L381.46,241.92 L382.07,242.36 L382.67,242.80 L383.27,243.23 L383.86,243.67 L384.45,244.11 L385.04,244.56 L385.62,245.00 L386.20,245.44" fill="none" stroke="#c8161e" stroke-width="2.6" stroke-dasharray="5.5,3.6"/><path d="M165.6,324.8 C166.8,322.6 168.2,323 169.6,326.2 C170.2,327.6 170.7,328.8 171.6,329.0" fill="none" stroke="#0f7cc6" stroke-width="2.6" stroke-linecap="round"/><path d="M171.21,328.60 L172.05,327.65 L172.75,326.62 L173.33,325.54 L173.81,324.41 L174.21,323.24 L174.55,322.04 L174.85,320.83 L175.13,319.62 L175.40,318.40 L175.65,317.19 L175.90,315.97 L176.13,314.75 L176.35,313.53 L176.56,312.32 L176.76,311.10 L176.96,309.88 L177.14,308.65 L177.32,307.43 L177.50,306.21 L177.67,304.99 L177.83,303.76 L177.99,302.54 L178.15,301.31 L178.30,300.09 L178.45,298.86 L178.61,297.63 L178.76,296.40 L178.91,295.17 L179.06,293.95 L179.22,292.72 L179.37,291.48 L179.53,290.25 L179.68,289.02 L179.84,287.79 L180.00,286.56 L180.15,285.33 L180.31,284.09 L180.47,282.86 L180.62,281.63 L180.78,280.39 L180.94,279.16 L181.10,277.92 L181.25,276.69 L181.41,275.45 L181.56,274.22 L181.72,272.98 L181.87,271.75 L182.03,270.52 L182.18,269.28 L182.33,268.05 L182.48,266.81 L182.63,265.58 L182.78,264.35 L182.92,263.11 L183.07,261.88 L183.21,260.65 L183.35,259.41 L183.49,258.18 L183.63,256.95 L183.77,255.72 L183.90,254.49 L184.03,253.26 L184.16,252.03 L184.29,250.80 L184.42,249.57 L184.54,248.34 L184.66,247.12 L184.78,245.89 L184.89,244.67 L185.00,243.44 L185.11,242.22 L185.22,241.00 L185.32,239.78 L185.42,238.55 L185.52,237.33 L185.62,236.11 L185.73,234.89 L185.83,233.68 L185.94,232.46 L186.05,231.24 L186.17,230.02 L186.30,228.79 L186.43,227.57 L186.58,226.35 L186.73,225.12 L186.90,223.90 L187.08,222.67 L187.27,221.44 L187.48,220.21 L187.71,218.98 L187.95,217.74 L188.21,216.50 L188.49,215.26 L188.80,214.02 L189.12,212.77 L189.47,211.52 L189.84,210.26 L190.24,209.01 L190.66,207.75 L191.12,206.49 L191.62,205.26 L192.18,204.09 L192.82,203.02 L193.55,202.08 L194.40,201.31 L195.36,200.72 L196.41,200.33 L197.51,200.13 L198.64,200.12 L199.75,200.30 L200.81,200.67 L201.79,201.23 L202.67,201.97 L203.45,202.88 L204.15,203.92 L204.78,205.08 L205.35,206.32 L205.88,207.63 L206.39,208.97 L206.89,210.34 L207.38,211.69 L207.89,213.02 L208.42,214.31 L208.96,215.58 L209.52,216.82 L210.09,218.03 L210.67,219.22 L211.26,220.38 L211.87,221.52 L212.48,222.64 L213.11,223.75 L213.74,224.83 L214.39,225.90 L215.04,226.95 L215.70,227.98 L216.37,229.01 L217.04,230.02 L217.72,231.03 L218.41,232.02 L219.10,233.01 L219.79,233.99 L220.49,234.96 L221.19,235.94 L221.89,236.91 L222.60,237.88 L223.30,238.85 L224.01,239.82 L224.71,240.79 L225.42,241.78 L226.12,242.76 L226.82,243.75 L227.52,244.75 L228.22,245.76 L228.92,246.77 L229.62,247.79 L230.31,248.81 L231.01,249.83 L231.71,250.85 L232.42,251.88 L233.12,252.91 L233.83,253.94 L234.54,254.96 L235.26,255.99 L235.98,257.01 L236.71,258.03 L237.44,259.04 L238.18,260.05 L238.92,261.06 L239.68,262.06 L240.44,263.05 L241.21,264.04 L241.98,265.01 L242.77,265.98 L243.57,266.94 L244.38,267.88 L245.20,268.82 L246.03,269.74 L246.87,270.65 L247.72,271.55 L248.59,272.43 L249.47,273.30 L250.36,274.15 L251.27,274.99 L252.18,275.82 L253.11,276.64 L254.04,277.44 L254.99,278.24 L255.95,279.01 L256.92,279.78 L257.89,280.53 L258.88,281.28 L259.88,282.01 L260.89,282.72 L261.90,283.43 L262.93,284.12 L263.96,284.81 L265.00,285.48 L266.05,286.14 L267.10,286.79 L268.17,287.42 L269.24,288.05 L270.32,288.67 L271.40,289.27 L272.50,289.87 L273.59,290.46 L274.70,291.03 L275.81,291.59 L276.92,292.15 L278.05,292.69 L279.17,293.23 L280.30,293.76 L281.44,294.27 L282.58,294.78 L283.72,295.28 L284.87,295.77 L286.03,296.25 L287.18,296.72 L288.34,297.18 L289.50,297.63 L290.67,298.08 L291.83,298.52 L293.00,298.95 L294.17,299.37 L295.35,299.78 L296.52,300.19 L297.70,300.58 L298.87,300.97 L300.05,301.36 L301.23,301.73 L302.41,302.10 L303.59,302.46 L304.76,302.82 L305.94,303.17 L307.12,303.51 L308.30,303.84 L309.47,304.17 L310.65,304.49 L311.82,304.81 L312.99,305.12" fill="none" stroke="#0f7cc6" stroke-width="2.6"/><path d="M186.20,326.29 L187.11,324.91 L188.03,324.07 L188.96,323.70 L189.90,323.73 L190.86,324.07 L191.82,324.64 L192.80,325.36 L193.79,326.16 L194.79,326.96 L195.79,327.70 L196.81,328.34 L197.84,328.82 L198.88,329.10 L199.92,329.14 L200.96,328.93 L201.98,328.49 L202.95,327.87 L203.87,327.10 L204.70,326.22 L205.43,325.26 L206.07,324.22 L206.64,323.13 L207.13,321.98 L207.56,320.80 L207.95,319.60 L208.29,318.38 L208.60,317.15 L208.88,315.93 L209.16,314.73 L209.43,313.55 L209.70,312.42 L209.98,311.32 L210.27,310.26 L210.57,309.22 L210.87,308.20 L211.18,307.21 L211.49,306.22 L211.80,305.24 L212.11,304.27 L212.43,303.29 L212.74,302.30 L213.06,301.29 L213.38,300.27 L213.69,299.23 L214.00,298.16 L214.31,297.08 L214.62,295.97 L214.93,294.85 L215.24,293.72 L215.54,292.58 L215.84,291.42 L216.14,290.26 L216.44,289.10 L216.74,287.94 L217.04,286.77 L217.34,285.60 L217.63,284.44 L217.92,283.29 L218.21,282.14 L218.50,281.00 L218.79,279.87 L219.08,278.74 L219.37,277.62 L219.65,276.51 L219.94,275.40 L220.22,274.29 L220.51,273.19 L220.79,272.09 L221.08,271.00 L221.36,269.91 L221.65,268.83 L221.94,267.75 L222.22,266.67 L222.51,265.59 L222.80,264.52 L223.09,263.45 L223.38,262.38 L223.67,261.31 L223.97,260.24 L224.26,259.18 L224.56,258.11 L224.86,257.04 L225.16,255.98 L225.46,254.91 L225.77,253.85 L226.08,252.78 L226.39,251.71 L226.71,250.64 L227.02,249.57 L227.34,248.49 L227.67,247.41 L227.99,246.33 L228.33,245.25 L228.66,244.17 L229.00,243.08 L229.34,241.98 L229.69,240.88 L230.04,239.78 L230.40,238.67 L230.76,237.56 L231.12,236.44 L231.49,235.32 L231.87,234.19 L232.25,233.05 L232.63,231.91 L233.02,230.76 L233.42,229.60 L233.82,228.44 L234.24,227.28 L234.66,226.11 L235.10,224.95 L235.55,223.80 L236.01,222.66 L236.50,221.54 L237.00,220.44 L237.53,219.35 L238.08,218.30 L238.66,217.27 L239.27,216.28 L239.90,215.32 L240.57,214.41 L241.28,213.54 L242.02,212.71 L242.80,211.94 L243.61,211.22 L244.47,210.56 L245.38,209.96 L246.33,209.43 L247.33,208.96 L248.37,208.56 L249.44,208.24 L250.55,207.98 L251.68,207.80 L252.82,207.68 L253.98,207.64 L255.14,207.67 L256.29,207.78 L257.44,207.95 L258.58,208.20 L259.69,208.53 L260.77,208.93 L261.83,209.39 L262.86,209.92 L263.86,210.51 L264.85,211.13 L265.82,211.80 L266.78,212.49 L267.73,213.20 L268.67,213.92 L269.60,214.64 L270.53,215.35 L271.46,216.06 L272.39,216.75 L273.33,217.43 L274.26,218.10 L275.19,218.76 L276.12,219.42 L277.06,220.06 L277.99,220.71 L278.92,221.35 L279.85,221.98 L280.79,222.61 L281.72,223.24 L282.65,223.88 L283.58,224.51 L284.51,225.14 L285.44,225.78 L286.37,226.42 L287.30,227.06 L288.23,227.71 L289.16,228.36 L290.08,229.01 L291.01,229.67 L291.94,230.32 L292.87,230.98 L293.79,231.64 L294.72,232.31 L295.65,232.97 L296.57,233.64 L297.50,234.31 L298.43,234.97 L299.36,235.65 L300.28,236.32 L301.21,236.99 L302.14,237.66 L303.06,238.34 L303.99,239.01 L304.92,239.69 L305.85,240.36 L306.78,241.04 L307.71,241.72 L308.63,242.39 L309.56,243.07 L310.50,243.74 L311.43,244.42 L312.36,245.09 L313.29,245.76 L314.22,246.44 L315.16,247.11 L316.09,247.78 L317.02,248.45 L317.96,249.12 L318.90,249.78 L319.84,250.44 L320.77,251.11 L321.71,251.76 L322.66,252.42 L323.60,253.07 L324.55,253.72 L325.49,254.36 L326.44,255.00 L327.40,255.64 L328.35,256.27 L329.31,256.90 L330.27,257.51 L331.23,258.13 L332.20,258.73 L333.17,259.33 L334.14,259.93 L335.12,260.51 L336.10,261.09 L337.09,261.66 L338.07,262.22 L339.07,262.78 L340.07,263.32 L341.07,263.86 L342.08,264.38 L343.09,264.90 L344.10,265.40 L345.13,265.90 L346.16,266.38 L347.19,266.86 L348.23,267.32 L349.27,267.76 L350.33,268.20 L351.38,268.63 L352.45,269.04 L353.52,269.44 L354.59,269.82" fill="none" stroke="#000000" stroke-width="2.6"/><path d="M249.31,329.76 L250.21,329.57 L251.09,329.36 L251.96,329.13 L252.80,328.89 L253.64,328.62 L254.45,328.33 L255.25,328.03 L256.03,327.71 L256.80,327.37 L257.55,327.01 L258.28,326.63 L259.00,326.24 L259.71,325.84 L260.40,325.41 L261.07,324.97 L261.74,324.52 L262.39,324.05 L263.02,323.57 L263.65,323.07 L264.26,322.56 L264.86,322.04 L265.44,321.50 L266.02,320.95 L266.58,320.39 L267.14,319.81 L267.68,319.22 L268.21,318.63 L268.73,318.02 L269.24,317.40 L269.74,316.77 L270.24,316.13 L270.72,315.48 L271.20,314.82 L271.66,314.16 L272.12,313.48 L272.57,312.80 L273.02,312.11 L273.45,311.41 L273.88,310.71 L274.31,309.99 L274.72,309.27 L275.13,308.55 L275.54,307.82 L275.94,307.09 L276.34,306.34 L276.73,305.60 L277.11,304.85 L277.49,304.10 L277.87,303.34 L278.25,302.58 L278.62,301.82 L278.99,301.06 L279.35,300.29 L279.72,299.52 L280.08,298.75 L280.44,297.98 L280.80,297.21 L281.16,296.43 L281.51,295.66 L281.87,294.89 L282.23,294.12 L282.58,293.35 L282.94,292.58 L283.29,291.81 L283.65,291.04 L284.01,290.27 L284.36,289.51 L284.72,288.74 L285.08,287.98 L285.43,287.21 L285.79,286.45 L286.15,285.69 L286.51,284.92 L286.86,284.16 L287.22,283.40 L287.58,282.64 L287.94,281.89 L288.30,281.13 L288.67,280.37 L289.03,279.62 L289.39,278.86 L289.76,278.11 L290.12,277.36 L290.49,276.61 L290.86,275.86 L291.23,275.11 L291.60,274.36 L291.97,273.61 L292.35,272.87 L292.72,272.12 L293.10,271.38 L293.47,270.64 L293.85,269.90 L294.24,269.16 L294.62,268.42 L295.00,267.68 L295.39,266.95 L295.78,266.21 L296.17,265.48 L296.56,264.75 L296.96,264.02 L297.35,263.29 L297.75,262.56 L298.15,261.84 L298.56,261.11 L298.96,260.39 L299.37,259.67 L299.78,258.95 L300.19,258.23 L300.61,257.51 L301.03,256.79 L301.45,256.08 L301.87,255.37 L302.30,254.66 L302.73,253.95 L303.16,253.24 L303.60,252.53 L304.04,251.83 L304.48,251.13 L304.92,250.43 L305.37,249.73 L305.82,249.03 L306.28,248.33 L306.73,247.64 L307.20,246.95 L307.66,246.26 L308.13,245.57 L308.60,244.88 L309.08,244.20 L309.56,243.52 L310.04,242.83 L310.53,242.16 L311.02,241.48 L311.52,240.80 L312.02,240.13 L312.52,239.46 L313.03,238.79 L313.54,238.12 L314.05,237.46 L314.57,236.79 L315.10,236.13 L315.63,235.48 L316.16,234.82 L316.70,234.16 L317.24,233.51 L317.79,232.86 L318.34,232.21 L318.90,231.57 L319.46,230.93 L320.03,230.29 L320.60,229.65 L321.18,229.02 L321.76,228.39 L322.34,227.77 L322.93,227.15 L323.53,226.54 L324.13,225.93 L324.73,225.33 L325.34,224.74 L325.96,224.15 L326.58,223.56 L327.20,222.98 L327.83,222.41 L328.46,221.85 L329.10,221.30 L329.75,220.75 L330.40,220.21 L331.05,219.68 L331.71,219.16 L332.38,218.64 L333.05,218.14 L333.72,217.64 L334.40,217.16 L335.09,216.68 L335.78,216.22 L336.47,215.77 L337.17,215.32 L337.88,214.89 L338.59,214.47 L339.31,214.06 L340.03,213.67 L340.75,213.28 L341.49,212.91 L342.22,212.55 L342.97,212.21 L343.72,211.87 L344.47,211.56 L345.23,211.25 L345.99,210.96 L346.76,210.69 L347.54,210.42 L348.32,210.18 L349.11,209.95 L349.90,209.73 L350.69,209.53 L351.49,209.34 L352.30,209.17 L353.10,209.01 L353.92,208.87 L354.73,208.73 L355.55,208.62 L356.37,208.51 L357.20,208.42 L358.02,208.34 L358.85,208.28 L359.69,208.22 L360.52,208.18 L361.36,208.16 L362.19,208.14 L363.03,208.14 L363.87,208.15 L364.71,208.17 L365.55,208.20 L366.39,208.25 L367.24,208.30 L368.08,208.37 L368.92,208.45 L369.76,208.53 L370.60,208.63 L371.44,208.74 L372.27,208.86 L373.11,208.99 L373.95,209.13 L374.78,209.29 L375.61,209.45 L376.44,209.62 L377.26,209.80 L378.08,209.98 L378.90,210.18 L379.72,210.39 L380.53,210.61 L381.34,210.83 L382.15,211.06 L382.95,211.31 L383.74,211.56 L384.53,211.81 L385.32,212.08 L386.10,212.35 L386.88,212.63" fill="none" stroke="#c8161e" stroke-width="2.6"/>
</svg></body></html>
